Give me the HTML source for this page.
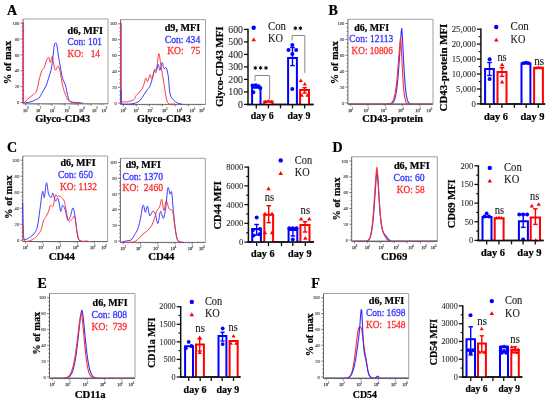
<!DOCTYPE html>
<html><head><meta charset="utf-8"><style>
html,body{margin:0;padding:0;background:#fff;width:550px;height:404px;overflow:hidden}
svg{display:block;will-change:transform}
text{font-family:"Liberation Serif", serif}
</style></head><body>
<svg width="550" height="404" viewBox="0 0 550 404" font-family="Liberation Serif">
<rect width="550" height="404" fill="#fff"/>
<text x="6.9" y="14.5" font-size="14" font-weight="bold" fill="#000" text-anchor="start" stroke="#000" stroke-width="0.22">A</text>
<text x="328.6" y="14.5" font-size="14" font-weight="bold" fill="#000" text-anchor="start" stroke="#000" stroke-width="0.22">B</text>
<text x="6.9" y="151.6" font-size="14" font-weight="bold" fill="#000" text-anchor="start" stroke="#000" stroke-width="0.22">C</text>
<text x="332.6" y="151.7" font-size="14" font-weight="bold" fill="#000" text-anchor="start" stroke="#000" stroke-width="0.22">D</text>
<text x="37.4" y="287.8" font-size="14" font-weight="bold" fill="#000" text-anchor="start" stroke="#000" stroke-width="0.22">E</text>
<text x="311.3" y="287.8" font-size="14" font-weight="bold" fill="#000" text-anchor="start" stroke="#000" stroke-width="0.22">F</text>
<line x1="23" y1="19" x2="108" y2="19" stroke="#a0a0a0" stroke-width="1"/>
<line x1="108" y1="19" x2="108" y2="103.8" stroke="#a0a0a0" stroke-width="1"/>
<line x1="23" y1="19" x2="23" y2="103.8" stroke="#555" stroke-width="0.9"/>
<line x1="23" y1="103.8" x2="108" y2="103.8" stroke="#555" stroke-width="0.9"/>
<line x1="20.6" y1="102.5" x2="23" y2="102.5" stroke="#555" stroke-width="0.8"/>
<text x="19.4" y="104.1" font-size="4.6" font-weight="normal" fill="#4a4a4a" text-anchor="end" stroke="#4a4a4a" stroke-width="0.12">0</text>
<line x1="21.8" y1="98.53" x2="23" y2="98.53" stroke="#555" stroke-width="0.8"/>
<line x1="21.8" y1="94.57" x2="23" y2="94.57" stroke="#555" stroke-width="0.8"/>
<line x1="21.8" y1="90.61" x2="23" y2="90.61" stroke="#555" stroke-width="0.8"/>
<line x1="20.6" y1="86.64" x2="23" y2="86.64" stroke="#555" stroke-width="0.8"/>
<text x="19.4" y="88.24" font-size="4.6" font-weight="normal" fill="#4a4a4a" text-anchor="end" stroke="#4a4a4a" stroke-width="0.12">20</text>
<line x1="21.8" y1="82.67" x2="23" y2="82.67" stroke="#555" stroke-width="0.8"/>
<line x1="21.8" y1="78.71" x2="23" y2="78.71" stroke="#555" stroke-width="0.8"/>
<line x1="21.8" y1="74.75" x2="23" y2="74.75" stroke="#555" stroke-width="0.8"/>
<line x1="20.6" y1="70.78" x2="23" y2="70.78" stroke="#555" stroke-width="0.8"/>
<text x="19.4" y="72.38" font-size="4.6" font-weight="normal" fill="#4a4a4a" text-anchor="end" stroke="#4a4a4a" stroke-width="0.12">40</text>
<line x1="21.8" y1="66.81" x2="23" y2="66.81" stroke="#555" stroke-width="0.8"/>
<line x1="21.8" y1="62.85" x2="23" y2="62.85" stroke="#555" stroke-width="0.8"/>
<line x1="21.8" y1="58.89" x2="23" y2="58.89" stroke="#555" stroke-width="0.8"/>
<line x1="20.6" y1="54.92" x2="23" y2="54.92" stroke="#555" stroke-width="0.8"/>
<text x="19.4" y="56.52" font-size="4.6" font-weight="normal" fill="#4a4a4a" text-anchor="end" stroke="#4a4a4a" stroke-width="0.12">60</text>
<line x1="21.8" y1="50.96" x2="23" y2="50.96" stroke="#555" stroke-width="0.8"/>
<line x1="21.8" y1="46.99" x2="23" y2="46.99" stroke="#555" stroke-width="0.8"/>
<line x1="21.8" y1="43.03" x2="23" y2="43.03" stroke="#555" stroke-width="0.8"/>
<line x1="20.6" y1="39.06" x2="23" y2="39.06" stroke="#555" stroke-width="0.8"/>
<text x="19.4" y="40.66" font-size="4.6" font-weight="normal" fill="#4a4a4a" text-anchor="end" stroke="#4a4a4a" stroke-width="0.12">80</text>
<line x1="21.8" y1="35.1" x2="23" y2="35.1" stroke="#555" stroke-width="0.8"/>
<line x1="21.8" y1="31.13" x2="23" y2="31.13" stroke="#555" stroke-width="0.8"/>
<line x1="21.8" y1="27.17" x2="23" y2="27.17" stroke="#555" stroke-width="0.8"/>
<line x1="20.6" y1="23.2" x2="23" y2="23.2" stroke="#555" stroke-width="0.8"/>
<text x="19.4" y="24.8" font-size="4.6" font-weight="normal" fill="#4a4a4a" text-anchor="end" stroke="#4a4a4a" stroke-width="0.12">100</text>
<text x="25.2" y="111.6" font-size="4.4" font-weight="normal" fill="#505050" text-anchor="middle" stroke="#505050" stroke-width="0.25">10</text>
<text x="27.9" y="109.3" font-size="3" font-weight="normal" fill="#606060" text-anchor="middle" stroke="#606060" stroke-width="0.15">0</text>
<text x="38.1" y="111.6" font-size="4.4" font-weight="normal" fill="#505050" text-anchor="middle" stroke="#505050" stroke-width="0.25">10</text>
<text x="40.8" y="109.3" font-size="3" font-weight="normal" fill="#606060" text-anchor="middle" stroke="#606060" stroke-width="0.15">1</text>
<text x="51.9" y="111.6" font-size="4.4" font-weight="normal" fill="#505050" text-anchor="middle" stroke="#505050" stroke-width="0.25">10</text>
<text x="54.6" y="109.3" font-size="3" font-weight="normal" fill="#606060" text-anchor="middle" stroke="#606060" stroke-width="0.15">2</text>
<text x="66.6" y="111.6" font-size="4.4" font-weight="normal" fill="#505050" text-anchor="middle" stroke="#505050" stroke-width="0.25">10</text>
<text x="69.3" y="109.3" font-size="3" font-weight="normal" fill="#606060" text-anchor="middle" stroke="#606060" stroke-width="0.15">3</text>
<text x="81.3" y="111.6" font-size="4.4" font-weight="normal" fill="#505050" text-anchor="middle" stroke="#505050" stroke-width="0.25">10</text>
<text x="84" y="109.3" font-size="3" font-weight="normal" fill="#606060" text-anchor="middle" stroke="#606060" stroke-width="0.15">4</text>
<text x="94.3" y="111.6" font-size="4.4" font-weight="normal" fill="#505050" text-anchor="middle" stroke="#505050" stroke-width="0.25">10</text>
<text x="97" y="109.3" font-size="3" font-weight="normal" fill="#606060" text-anchor="middle" stroke="#606060" stroke-width="0.15">5</text>
<text x="103.8" y="111.6" font-size="4.4" font-weight="normal" fill="#505050" text-anchor="middle" stroke="#505050" stroke-width="0.25">10</text>
<text x="106.5" y="109.3" font-size="3" font-weight="normal" fill="#606060" text-anchor="middle" stroke="#606060" stroke-width="0.15">6</text>
<line x1="25.8" y1="103.8" x2="25.8" y2="105.8" stroke="#555" stroke-width="0.7"/>
<line x1="29.74" y1="103.8" x2="29.74" y2="104.8" stroke="#777" stroke-width="0.5"/>
<line x1="32.05" y1="103.8" x2="32.05" y2="104.8" stroke="#777" stroke-width="0.5"/>
<line x1="33.69" y1="103.8" x2="33.69" y2="104.8" stroke="#777" stroke-width="0.5"/>
<line x1="34.96" y1="103.8" x2="34.96" y2="104.8" stroke="#777" stroke-width="0.5"/>
<line x1="35.99" y1="103.8" x2="35.99" y2="104.8" stroke="#777" stroke-width="0.5"/>
<line x1="36.87" y1="103.8" x2="36.87" y2="104.8" stroke="#777" stroke-width="0.5"/>
<line x1="37.63" y1="103.8" x2="37.63" y2="104.8" stroke="#777" stroke-width="0.5"/>
<line x1="38.3" y1="103.8" x2="38.3" y2="104.8" stroke="#777" stroke-width="0.5"/>
<line x1="38.9" y1="103.8" x2="38.9" y2="105.8" stroke="#555" stroke-width="0.7"/>
<line x1="42.84" y1="103.8" x2="42.84" y2="104.8" stroke="#777" stroke-width="0.5"/>
<line x1="45.15" y1="103.8" x2="45.15" y2="104.8" stroke="#777" stroke-width="0.5"/>
<line x1="46.79" y1="103.8" x2="46.79" y2="104.8" stroke="#777" stroke-width="0.5"/>
<line x1="48.06" y1="103.8" x2="48.06" y2="104.8" stroke="#777" stroke-width="0.5"/>
<line x1="49.09" y1="103.8" x2="49.09" y2="104.8" stroke="#777" stroke-width="0.5"/>
<line x1="49.97" y1="103.8" x2="49.97" y2="104.8" stroke="#777" stroke-width="0.5"/>
<line x1="50.73" y1="103.8" x2="50.73" y2="104.8" stroke="#777" stroke-width="0.5"/>
<line x1="51.4" y1="103.8" x2="51.4" y2="104.8" stroke="#777" stroke-width="0.5"/>
<line x1="52" y1="103.8" x2="52" y2="105.8" stroke="#555" stroke-width="0.7"/>
<line x1="55.94" y1="103.8" x2="55.94" y2="104.8" stroke="#777" stroke-width="0.5"/>
<line x1="58.25" y1="103.8" x2="58.25" y2="104.8" stroke="#777" stroke-width="0.5"/>
<line x1="59.89" y1="103.8" x2="59.89" y2="104.8" stroke="#777" stroke-width="0.5"/>
<line x1="61.16" y1="103.8" x2="61.16" y2="104.8" stroke="#777" stroke-width="0.5"/>
<line x1="62.19" y1="103.8" x2="62.19" y2="104.8" stroke="#777" stroke-width="0.5"/>
<line x1="63.07" y1="103.8" x2="63.07" y2="104.8" stroke="#777" stroke-width="0.5"/>
<line x1="63.83" y1="103.8" x2="63.83" y2="104.8" stroke="#777" stroke-width="0.5"/>
<line x1="64.5" y1="103.8" x2="64.5" y2="104.8" stroke="#777" stroke-width="0.5"/>
<line x1="65.1" y1="103.8" x2="65.1" y2="105.8" stroke="#555" stroke-width="0.7"/>
<line x1="69.04" y1="103.8" x2="69.04" y2="104.8" stroke="#777" stroke-width="0.5"/>
<line x1="71.35" y1="103.8" x2="71.35" y2="104.8" stroke="#777" stroke-width="0.5"/>
<line x1="72.99" y1="103.8" x2="72.99" y2="104.8" stroke="#777" stroke-width="0.5"/>
<line x1="74.26" y1="103.8" x2="74.26" y2="104.8" stroke="#777" stroke-width="0.5"/>
<line x1="75.29" y1="103.8" x2="75.29" y2="104.8" stroke="#777" stroke-width="0.5"/>
<line x1="76.17" y1="103.8" x2="76.17" y2="104.8" stroke="#777" stroke-width="0.5"/>
<line x1="76.93" y1="103.8" x2="76.93" y2="104.8" stroke="#777" stroke-width="0.5"/>
<line x1="77.6" y1="103.8" x2="77.6" y2="104.8" stroke="#777" stroke-width="0.5"/>
<line x1="78.2" y1="103.8" x2="78.2" y2="105.8" stroke="#555" stroke-width="0.7"/>
<line x1="82.14" y1="103.8" x2="82.14" y2="104.8" stroke="#777" stroke-width="0.5"/>
<line x1="84.45" y1="103.8" x2="84.45" y2="104.8" stroke="#777" stroke-width="0.5"/>
<line x1="86.09" y1="103.8" x2="86.09" y2="104.8" stroke="#777" stroke-width="0.5"/>
<line x1="87.36" y1="103.8" x2="87.36" y2="104.8" stroke="#777" stroke-width="0.5"/>
<line x1="88.39" y1="103.8" x2="88.39" y2="104.8" stroke="#777" stroke-width="0.5"/>
<line x1="89.27" y1="103.8" x2="89.27" y2="104.8" stroke="#777" stroke-width="0.5"/>
<line x1="90.03" y1="103.8" x2="90.03" y2="104.8" stroke="#777" stroke-width="0.5"/>
<line x1="90.7" y1="103.8" x2="90.7" y2="104.8" stroke="#777" stroke-width="0.5"/>
<line x1="91.3" y1="103.8" x2="91.3" y2="105.8" stroke="#555" stroke-width="0.7"/>
<line x1="95.24" y1="103.8" x2="95.24" y2="104.8" stroke="#777" stroke-width="0.5"/>
<line x1="97.55" y1="103.8" x2="97.55" y2="104.8" stroke="#777" stroke-width="0.5"/>
<line x1="99.19" y1="103.8" x2="99.19" y2="104.8" stroke="#777" stroke-width="0.5"/>
<line x1="100.46" y1="103.8" x2="100.46" y2="104.8" stroke="#777" stroke-width="0.5"/>
<line x1="101.49" y1="103.8" x2="101.49" y2="104.8" stroke="#777" stroke-width="0.5"/>
<line x1="102.37" y1="103.8" x2="102.37" y2="104.8" stroke="#777" stroke-width="0.5"/>
<line x1="103.13" y1="103.8" x2="103.13" y2="104.8" stroke="#777" stroke-width="0.5"/>
<line x1="103.8" y1="103.8" x2="103.8" y2="104.8" stroke="#777" stroke-width="0.5"/>
<line x1="23.3" y1="22.3" x2="23.3" y2="103.4" stroke="#e23c6c" stroke-width="1.5"/>
<path d="M24.3,102.7 C25.32,102.58 28.52,102.48 30.4,102 C32.28,101.52 34.15,100.47 35.6,99.8 C37.05,99.13 37.95,99.3 39.1,98 C40.25,96.7 41.35,94.02 42.5,92 C43.65,89.98 44.98,88.22 46,85.9 C47.02,83.58 47.73,80.83 48.6,78.1 C49.47,75.37 50.48,72.97 51.2,69.5 C51.92,66.03 52.38,61.35 52.9,57.3 C53.42,53.25 53.87,47.57 54.3,45.2 C54.73,42.83 55.1,43.25 55.5,43.1 C55.9,42.95 56.27,42.5 56.7,44.3 C57.13,46.1 57.52,50.28 58.1,53.9 C58.68,57.52 59.47,61.97 60.2,66 C60.93,70.03 61.63,74.93 62.5,78.1 C63.37,81.27 64.53,82.12 65.4,85 C66.27,87.88 66.88,92.65 67.7,95.4 C68.52,98.15 68.43,100.28 70.3,101.5 C72.17,102.72 76.75,102.42 78.9,102.7 C81.05,102.98 82.48,103.12 83.2,103.2" fill="none" stroke="#3030ff" stroke-width="0.95" stroke-linejoin="round"/>
<path d="M24.3,102.7 C24.88,102.07 26.5,100.1 27.8,98.9 C29.1,97.7 30.65,96.8 32.1,95.5 C33.55,94.2 35.33,93.7 36.5,91.1 C37.67,88.5 38.23,83.22 39.1,79.9 C39.97,76.58 40.83,73.23 41.7,71.2 C42.57,69.17 43.58,69.28 44.3,67.7 C45.02,66.12 45.28,63.43 46,61.7 C46.72,59.97 47.88,57.17 48.6,57.3 C49.32,57.43 49.72,62.63 50.3,62.5 C50.88,62.37 51.52,56.2 52.1,56.5 C52.68,56.8 53.23,62 53.8,64.3 C54.37,66.6 54.78,70.02 55.5,70.3 C56.22,70.58 57.32,65.7 58.1,66 C58.88,66.3 59.47,68.93 60.2,72.1 C60.93,75.27 61.68,81.4 62.5,85 C63.32,88.6 64.1,91.1 65.1,93.7 C66.1,96.3 67.07,99.1 68.5,100.6 C69.93,102.1 71.68,102.27 73.7,102.7 C75.72,103.13 79.45,103.12 80.6,103.2" fill="none" stroke="#ff3030" stroke-width="0.95" stroke-linejoin="round"/>
<text x="67.5" y="33.7" font-size="10" font-weight="bold" fill="#000" text-anchor="start" stroke="#000" stroke-width="0.22" textLength="35.5" lengthAdjust="spacingAndGlyphs">d6, MFI</text>
<text x="67.5" y="45" font-size="10" font-weight="normal" fill="#3535ff" text-anchor="start" stroke="#3535ff" stroke-width="0.3" textLength="34.5" lengthAdjust="spacingAndGlyphs">Con: 101</text>
<text x="67.5" y="57" font-size="10" font-weight="normal" fill="#ff2d2d" text-anchor="start" stroke="#ff2d2d" stroke-width="0.3" textLength="32.5" lengthAdjust="spacingAndGlyphs">KO:&#160;&#160;&#160;14</text>
<text x="35.2" y="122.3" font-size="10.5" font-weight="bold" fill="#000" text-anchor="start" stroke="#000" stroke-width="0.22" textLength="55" lengthAdjust="spacingAndGlyphs">Glyco-CD43</text>
<text transform="translate(11.2,62.55) rotate(-90)" x="0" y="0" font-size="10.6" font-weight="bold" fill="#000" text-anchor="middle" stroke="#000" stroke-width="0.22" textLength="43.3" lengthAdjust="spacingAndGlyphs">% of max</text>
<line x1="120.5" y1="19.6" x2="205.5" y2="19.6" stroke="#a0a0a0" stroke-width="1"/>
<line x1="205.5" y1="19.6" x2="205.5" y2="104.4" stroke="#a0a0a0" stroke-width="1"/>
<line x1="120.5" y1="19.6" x2="120.5" y2="104.4" stroke="#555" stroke-width="0.9"/>
<line x1="120.5" y1="104.4" x2="205.5" y2="104.4" stroke="#555" stroke-width="0.9"/>
<line x1="118.1" y1="103.1" x2="120.5" y2="103.1" stroke="#555" stroke-width="0.8"/>
<text x="116.9" y="104.7" font-size="4.6" font-weight="normal" fill="#4a4a4a" text-anchor="end" stroke="#4a4a4a" stroke-width="0.12">0</text>
<line x1="119.3" y1="99.14" x2="120.5" y2="99.14" stroke="#555" stroke-width="0.8"/>
<line x1="119.3" y1="95.17" x2="120.5" y2="95.17" stroke="#555" stroke-width="0.8"/>
<line x1="119.3" y1="91.21" x2="120.5" y2="91.21" stroke="#555" stroke-width="0.8"/>
<line x1="118.1" y1="87.24" x2="120.5" y2="87.24" stroke="#555" stroke-width="0.8"/>
<text x="116.9" y="88.84" font-size="4.6" font-weight="normal" fill="#4a4a4a" text-anchor="end" stroke="#4a4a4a" stroke-width="0.12">20</text>
<line x1="119.3" y1="83.28" x2="120.5" y2="83.28" stroke="#555" stroke-width="0.8"/>
<line x1="119.3" y1="79.31" x2="120.5" y2="79.31" stroke="#555" stroke-width="0.8"/>
<line x1="119.3" y1="75.34" x2="120.5" y2="75.34" stroke="#555" stroke-width="0.8"/>
<line x1="118.1" y1="71.38" x2="120.5" y2="71.38" stroke="#555" stroke-width="0.8"/>
<text x="116.9" y="72.98" font-size="4.6" font-weight="normal" fill="#4a4a4a" text-anchor="end" stroke="#4a4a4a" stroke-width="0.12">40</text>
<line x1="119.3" y1="67.41" x2="120.5" y2="67.41" stroke="#555" stroke-width="0.8"/>
<line x1="119.3" y1="63.45" x2="120.5" y2="63.45" stroke="#555" stroke-width="0.8"/>
<line x1="119.3" y1="59.48" x2="120.5" y2="59.48" stroke="#555" stroke-width="0.8"/>
<line x1="118.1" y1="55.52" x2="120.5" y2="55.52" stroke="#555" stroke-width="0.8"/>
<text x="116.9" y="57.12" font-size="4.6" font-weight="normal" fill="#4a4a4a" text-anchor="end" stroke="#4a4a4a" stroke-width="0.12">60</text>
<line x1="119.3" y1="51.55" x2="120.5" y2="51.55" stroke="#555" stroke-width="0.8"/>
<line x1="119.3" y1="47.59" x2="120.5" y2="47.59" stroke="#555" stroke-width="0.8"/>
<line x1="119.3" y1="43.62" x2="120.5" y2="43.62" stroke="#555" stroke-width="0.8"/>
<line x1="118.1" y1="39.66" x2="120.5" y2="39.66" stroke="#555" stroke-width="0.8"/>
<text x="116.9" y="41.26" font-size="4.6" font-weight="normal" fill="#4a4a4a" text-anchor="end" stroke="#4a4a4a" stroke-width="0.12">80</text>
<line x1="119.3" y1="35.69" x2="120.5" y2="35.69" stroke="#555" stroke-width="0.8"/>
<line x1="119.3" y1="31.73" x2="120.5" y2="31.73" stroke="#555" stroke-width="0.8"/>
<line x1="119.3" y1="27.77" x2="120.5" y2="27.77" stroke="#555" stroke-width="0.8"/>
<line x1="118.1" y1="23.8" x2="120.5" y2="23.8" stroke="#555" stroke-width="0.8"/>
<text x="116.9" y="25.4" font-size="4.6" font-weight="normal" fill="#4a4a4a" text-anchor="end" stroke="#4a4a4a" stroke-width="0.12">100</text>
<text x="122.7" y="112.2" font-size="4.4" font-weight="normal" fill="#505050" text-anchor="middle" stroke="#505050" stroke-width="0.25">10</text>
<text x="125.4" y="109.9" font-size="3" font-weight="normal" fill="#606060" text-anchor="middle" stroke="#606060" stroke-width="0.15">0</text>
<text x="135.6" y="112.2" font-size="4.4" font-weight="normal" fill="#505050" text-anchor="middle" stroke="#505050" stroke-width="0.25">10</text>
<text x="138.3" y="109.9" font-size="3" font-weight="normal" fill="#606060" text-anchor="middle" stroke="#606060" stroke-width="0.15">1</text>
<text x="149.4" y="112.2" font-size="4.4" font-weight="normal" fill="#505050" text-anchor="middle" stroke="#505050" stroke-width="0.25">10</text>
<text x="152.1" y="109.9" font-size="3" font-weight="normal" fill="#606060" text-anchor="middle" stroke="#606060" stroke-width="0.15">2</text>
<text x="164.1" y="112.2" font-size="4.4" font-weight="normal" fill="#505050" text-anchor="middle" stroke="#505050" stroke-width="0.25">10</text>
<text x="166.8" y="109.9" font-size="3" font-weight="normal" fill="#606060" text-anchor="middle" stroke="#606060" stroke-width="0.15">3</text>
<text x="178.8" y="112.2" font-size="4.4" font-weight="normal" fill="#505050" text-anchor="middle" stroke="#505050" stroke-width="0.25">10</text>
<text x="181.5" y="109.9" font-size="3" font-weight="normal" fill="#606060" text-anchor="middle" stroke="#606060" stroke-width="0.15">4</text>
<text x="191.8" y="112.2" font-size="4.4" font-weight="normal" fill="#505050" text-anchor="middle" stroke="#505050" stroke-width="0.25">10</text>
<text x="194.5" y="109.9" font-size="3" font-weight="normal" fill="#606060" text-anchor="middle" stroke="#606060" stroke-width="0.15">5</text>
<text x="201.3" y="112.2" font-size="4.4" font-weight="normal" fill="#505050" text-anchor="middle" stroke="#505050" stroke-width="0.25">10</text>
<text x="204" y="109.9" font-size="3" font-weight="normal" fill="#606060" text-anchor="middle" stroke="#606060" stroke-width="0.15">6</text>
<line x1="123.3" y1="104.4" x2="123.3" y2="106.4" stroke="#555" stroke-width="0.7"/>
<line x1="127.24" y1="104.4" x2="127.24" y2="105.4" stroke="#777" stroke-width="0.5"/>
<line x1="129.55" y1="104.4" x2="129.55" y2="105.4" stroke="#777" stroke-width="0.5"/>
<line x1="131.19" y1="104.4" x2="131.19" y2="105.4" stroke="#777" stroke-width="0.5"/>
<line x1="132.46" y1="104.4" x2="132.46" y2="105.4" stroke="#777" stroke-width="0.5"/>
<line x1="133.49" y1="104.4" x2="133.49" y2="105.4" stroke="#777" stroke-width="0.5"/>
<line x1="134.37" y1="104.4" x2="134.37" y2="105.4" stroke="#777" stroke-width="0.5"/>
<line x1="135.13" y1="104.4" x2="135.13" y2="105.4" stroke="#777" stroke-width="0.5"/>
<line x1="135.8" y1="104.4" x2="135.8" y2="105.4" stroke="#777" stroke-width="0.5"/>
<line x1="136.4" y1="104.4" x2="136.4" y2="106.4" stroke="#555" stroke-width="0.7"/>
<line x1="140.34" y1="104.4" x2="140.34" y2="105.4" stroke="#777" stroke-width="0.5"/>
<line x1="142.65" y1="104.4" x2="142.65" y2="105.4" stroke="#777" stroke-width="0.5"/>
<line x1="144.29" y1="104.4" x2="144.29" y2="105.4" stroke="#777" stroke-width="0.5"/>
<line x1="145.56" y1="104.4" x2="145.56" y2="105.4" stroke="#777" stroke-width="0.5"/>
<line x1="146.59" y1="104.4" x2="146.59" y2="105.4" stroke="#777" stroke-width="0.5"/>
<line x1="147.47" y1="104.4" x2="147.47" y2="105.4" stroke="#777" stroke-width="0.5"/>
<line x1="148.23" y1="104.4" x2="148.23" y2="105.4" stroke="#777" stroke-width="0.5"/>
<line x1="148.9" y1="104.4" x2="148.9" y2="105.4" stroke="#777" stroke-width="0.5"/>
<line x1="149.5" y1="104.4" x2="149.5" y2="106.4" stroke="#555" stroke-width="0.7"/>
<line x1="153.44" y1="104.4" x2="153.44" y2="105.4" stroke="#777" stroke-width="0.5"/>
<line x1="155.75" y1="104.4" x2="155.75" y2="105.4" stroke="#777" stroke-width="0.5"/>
<line x1="157.39" y1="104.4" x2="157.39" y2="105.4" stroke="#777" stroke-width="0.5"/>
<line x1="158.66" y1="104.4" x2="158.66" y2="105.4" stroke="#777" stroke-width="0.5"/>
<line x1="159.69" y1="104.4" x2="159.69" y2="105.4" stroke="#777" stroke-width="0.5"/>
<line x1="160.57" y1="104.4" x2="160.57" y2="105.4" stroke="#777" stroke-width="0.5"/>
<line x1="161.33" y1="104.4" x2="161.33" y2="105.4" stroke="#777" stroke-width="0.5"/>
<line x1="162" y1="104.4" x2="162" y2="105.4" stroke="#777" stroke-width="0.5"/>
<line x1="162.6" y1="104.4" x2="162.6" y2="106.4" stroke="#555" stroke-width="0.7"/>
<line x1="166.54" y1="104.4" x2="166.54" y2="105.4" stroke="#777" stroke-width="0.5"/>
<line x1="168.85" y1="104.4" x2="168.85" y2="105.4" stroke="#777" stroke-width="0.5"/>
<line x1="170.49" y1="104.4" x2="170.49" y2="105.4" stroke="#777" stroke-width="0.5"/>
<line x1="171.76" y1="104.4" x2="171.76" y2="105.4" stroke="#777" stroke-width="0.5"/>
<line x1="172.79" y1="104.4" x2="172.79" y2="105.4" stroke="#777" stroke-width="0.5"/>
<line x1="173.67" y1="104.4" x2="173.67" y2="105.4" stroke="#777" stroke-width="0.5"/>
<line x1="174.43" y1="104.4" x2="174.43" y2="105.4" stroke="#777" stroke-width="0.5"/>
<line x1="175.1" y1="104.4" x2="175.1" y2="105.4" stroke="#777" stroke-width="0.5"/>
<line x1="175.7" y1="104.4" x2="175.7" y2="106.4" stroke="#555" stroke-width="0.7"/>
<line x1="179.64" y1="104.4" x2="179.64" y2="105.4" stroke="#777" stroke-width="0.5"/>
<line x1="181.95" y1="104.4" x2="181.95" y2="105.4" stroke="#777" stroke-width="0.5"/>
<line x1="183.59" y1="104.4" x2="183.59" y2="105.4" stroke="#777" stroke-width="0.5"/>
<line x1="184.86" y1="104.4" x2="184.86" y2="105.4" stroke="#777" stroke-width="0.5"/>
<line x1="185.89" y1="104.4" x2="185.89" y2="105.4" stroke="#777" stroke-width="0.5"/>
<line x1="186.77" y1="104.4" x2="186.77" y2="105.4" stroke="#777" stroke-width="0.5"/>
<line x1="187.53" y1="104.4" x2="187.53" y2="105.4" stroke="#777" stroke-width="0.5"/>
<line x1="188.2" y1="104.4" x2="188.2" y2="105.4" stroke="#777" stroke-width="0.5"/>
<line x1="188.8" y1="104.4" x2="188.8" y2="106.4" stroke="#555" stroke-width="0.7"/>
<line x1="192.74" y1="104.4" x2="192.74" y2="105.4" stroke="#777" stroke-width="0.5"/>
<line x1="195.05" y1="104.4" x2="195.05" y2="105.4" stroke="#777" stroke-width="0.5"/>
<line x1="196.69" y1="104.4" x2="196.69" y2="105.4" stroke="#777" stroke-width="0.5"/>
<line x1="197.96" y1="104.4" x2="197.96" y2="105.4" stroke="#777" stroke-width="0.5"/>
<line x1="198.99" y1="104.4" x2="198.99" y2="105.4" stroke="#777" stroke-width="0.5"/>
<line x1="199.87" y1="104.4" x2="199.87" y2="105.4" stroke="#777" stroke-width="0.5"/>
<line x1="200.63" y1="104.4" x2="200.63" y2="105.4" stroke="#777" stroke-width="0.5"/>
<line x1="201.3" y1="104.4" x2="201.3" y2="105.4" stroke="#777" stroke-width="0.5"/>
<line x1="121.2" y1="23" x2="121.2" y2="104" stroke="#e8406a" stroke-width="1.3"/>
<line x1="121.3" y1="90" x2="121.3" y2="104" stroke="#3030ff" stroke-width="0.9"/>
<path d="M121.5,104 C122.65,104.02 126.1,104.23 128.4,104.1 C130.7,103.97 133.28,103.92 135.3,103.2 C137.32,102.48 139.05,101.23 140.5,99.8 C141.95,98.37 142.83,96.33 144,94.6 C145.17,92.87 146.5,90.85 147.5,89.4 C148.5,87.95 149.13,87.92 150,85.9 C150.87,83.88 151.92,80.03 152.7,77.3 C153.48,74.57 154.07,70.67 154.7,69.5 C155.33,68.33 155.92,71.17 156.5,70.3 C157.08,69.43 157.63,64.3 158.2,64.3 C158.77,64.3 159.23,70.6 159.9,70.3 C160.57,70 161.53,62.78 162.2,62.5 C162.87,62.22 163.23,67.73 163.9,68.6 C164.57,69.47 165.47,66.4 166.2,67.7 C166.93,69 167.67,72.07 168.3,76.4 C168.93,80.73 169.15,89.8 170,93.7 C170.85,97.6 172.1,98.22 173.4,99.8 C174.7,101.38 176.35,102.5 177.8,103.2 C179.25,103.9 181.38,103.87 182.1,104" fill="none" stroke="#3030ff" stroke-width="0.95" stroke-linejoin="round"/>
<path d="M121.5,104 C121.78,103.58 122.33,101.83 123.2,101.5 C124.07,101.17 124.97,102.28 126.7,102 C128.43,101.72 132.02,100.88 133.6,99.8 C135.18,98.72 135.18,96.8 136.2,95.5 C137.22,94.2 138.55,93.45 139.7,92 C140.85,90.55 142.1,89.12 143.1,86.8 C144.1,84.48 144.97,78.97 145.7,78.1 C146.43,77.23 146.77,82.17 147.5,81.6 C148.23,81.03 149.38,75.13 150.1,74.7 C150.82,74.27 151.08,79.73 151.8,79 C152.52,78.27 153.68,71.45 154.4,70.3 C155.12,69.15 155.38,74.83 156.1,72.1 C156.82,69.37 157.97,55.5 158.7,53.9 C159.43,52.3 159.92,59.33 160.5,62.5 C161.08,65.67 161.63,69.43 162.2,72.9 C162.77,76.37 163.18,78.97 163.9,83.3 C164.62,87.63 165.63,95.48 166.5,98.9 C167.37,102.32 167.68,102.95 169.1,103.8 C170.52,104.65 174.02,103.97 175,104" fill="none" stroke="#ff3030" stroke-width="0.95" stroke-linejoin="round"/>
<text x="200.2" y="31" font-size="10" font-weight="bold" fill="#000" text-anchor="end" stroke="#000" stroke-width="0.22" textLength="35.5" lengthAdjust="spacingAndGlyphs">d9, MFI</text>
<text x="200.2" y="42.6" font-size="10" font-weight="normal" fill="#3535ff" text-anchor="end" stroke="#3535ff" stroke-width="0.3" textLength="35.4" lengthAdjust="spacingAndGlyphs">Con: 434</text>
<text x="200.2" y="54.1" font-size="10" font-weight="normal" fill="#ff2d2d" text-anchor="end" stroke="#ff2d2d" stroke-width="0.3" textLength="33" lengthAdjust="spacingAndGlyphs">KO:&#160;&#160;&#160;75</text>
<text x="136.9" y="122.2" font-size="10.5" font-weight="bold" fill="#000" text-anchor="start" stroke="#000" stroke-width="0.22" textLength="54.2" lengthAdjust="spacingAndGlyphs">Glyco-CD43</text>
<line x1="347.9" y1="19.3" x2="433" y2="19.3" stroke="#a0a0a0" stroke-width="1"/>
<line x1="433" y1="19.3" x2="433" y2="104.2" stroke="#a0a0a0" stroke-width="1"/>
<line x1="347.9" y1="19.3" x2="347.9" y2="104.2" stroke="#555" stroke-width="0.9"/>
<line x1="347.9" y1="104.2" x2="433" y2="104.2" stroke="#555" stroke-width="0.9"/>
<line x1="345.5" y1="102.9" x2="347.9" y2="102.9" stroke="#555" stroke-width="0.8"/>
<text x="344.3" y="104.5" font-size="4.6" font-weight="normal" fill="#4a4a4a" text-anchor="end" stroke="#4a4a4a" stroke-width="0.12">0</text>
<line x1="346.7" y1="98.93" x2="347.9" y2="98.93" stroke="#555" stroke-width="0.8"/>
<line x1="346.7" y1="94.96" x2="347.9" y2="94.96" stroke="#555" stroke-width="0.8"/>
<line x1="346.7" y1="90.99" x2="347.9" y2="90.99" stroke="#555" stroke-width="0.8"/>
<line x1="345.5" y1="87.02" x2="347.9" y2="87.02" stroke="#555" stroke-width="0.8"/>
<text x="344.3" y="88.62" font-size="4.6" font-weight="normal" fill="#4a4a4a" text-anchor="end" stroke="#4a4a4a" stroke-width="0.12">20</text>
<line x1="346.7" y1="83.05" x2="347.9" y2="83.05" stroke="#555" stroke-width="0.8"/>
<line x1="346.7" y1="79.08" x2="347.9" y2="79.08" stroke="#555" stroke-width="0.8"/>
<line x1="346.7" y1="75.11" x2="347.9" y2="75.11" stroke="#555" stroke-width="0.8"/>
<line x1="345.5" y1="71.14" x2="347.9" y2="71.14" stroke="#555" stroke-width="0.8"/>
<text x="344.3" y="72.74" font-size="4.6" font-weight="normal" fill="#4a4a4a" text-anchor="end" stroke="#4a4a4a" stroke-width="0.12">40</text>
<line x1="346.7" y1="67.17" x2="347.9" y2="67.17" stroke="#555" stroke-width="0.8"/>
<line x1="346.7" y1="63.2" x2="347.9" y2="63.2" stroke="#555" stroke-width="0.8"/>
<line x1="346.7" y1="59.23" x2="347.9" y2="59.23" stroke="#555" stroke-width="0.8"/>
<line x1="345.5" y1="55.26" x2="347.9" y2="55.26" stroke="#555" stroke-width="0.8"/>
<text x="344.3" y="56.86" font-size="4.6" font-weight="normal" fill="#4a4a4a" text-anchor="end" stroke="#4a4a4a" stroke-width="0.12">60</text>
<line x1="346.7" y1="51.29" x2="347.9" y2="51.29" stroke="#555" stroke-width="0.8"/>
<line x1="346.7" y1="47.32" x2="347.9" y2="47.32" stroke="#555" stroke-width="0.8"/>
<line x1="346.7" y1="43.35" x2="347.9" y2="43.35" stroke="#555" stroke-width="0.8"/>
<line x1="345.5" y1="39.38" x2="347.9" y2="39.38" stroke="#555" stroke-width="0.8"/>
<text x="344.3" y="40.98" font-size="4.6" font-weight="normal" fill="#4a4a4a" text-anchor="end" stroke="#4a4a4a" stroke-width="0.12">80</text>
<line x1="346.7" y1="35.41" x2="347.9" y2="35.41" stroke="#555" stroke-width="0.8"/>
<line x1="346.7" y1="31.44" x2="347.9" y2="31.44" stroke="#555" stroke-width="0.8"/>
<line x1="346.7" y1="27.47" x2="347.9" y2="27.47" stroke="#555" stroke-width="0.8"/>
<line x1="345.5" y1="23.5" x2="347.9" y2="23.5" stroke="#555" stroke-width="0.8"/>
<text x="344.3" y="25.1" font-size="4.6" font-weight="normal" fill="#4a4a4a" text-anchor="end" stroke="#4a4a4a" stroke-width="0.12">100</text>
<text x="350.1" y="112" font-size="4.4" font-weight="normal" fill="#505050" text-anchor="middle" stroke="#505050" stroke-width="0.25">10</text>
<text x="352.8" y="109.7" font-size="3" font-weight="normal" fill="#606060" text-anchor="middle" stroke="#606060" stroke-width="0.15">1</text>
<text x="365.62" y="112" font-size="4.4" font-weight="normal" fill="#505050" text-anchor="middle" stroke="#505050" stroke-width="0.25">10</text>
<text x="368.32" y="109.7" font-size="3" font-weight="normal" fill="#606060" text-anchor="middle" stroke="#606060" stroke-width="0.15">2</text>
<text x="382.94" y="112" font-size="4.4" font-weight="normal" fill="#505050" text-anchor="middle" stroke="#505050" stroke-width="0.25">10</text>
<text x="385.64" y="109.7" font-size="3" font-weight="normal" fill="#606060" text-anchor="middle" stroke="#606060" stroke-width="0.15">3</text>
<text x="400.26" y="112" font-size="4.4" font-weight="normal" fill="#505050" text-anchor="middle" stroke="#505050" stroke-width="0.25">10</text>
<text x="402.96" y="109.7" font-size="3" font-weight="normal" fill="#606060" text-anchor="middle" stroke="#606060" stroke-width="0.15">4</text>
<text x="417.48" y="112" font-size="4.4" font-weight="normal" fill="#505050" text-anchor="middle" stroke="#505050" stroke-width="0.25">10</text>
<text x="420.18" y="109.7" font-size="3" font-weight="normal" fill="#606060" text-anchor="middle" stroke="#606060" stroke-width="0.15">5</text>
<text x="428.8" y="112" font-size="4.4" font-weight="normal" fill="#505050" text-anchor="middle" stroke="#505050" stroke-width="0.25">10</text>
<text x="431.5" y="109.7" font-size="3" font-weight="normal" fill="#606060" text-anchor="middle" stroke="#606060" stroke-width="0.15">6</text>
<line x1="350.7" y1="104.2" x2="350.7" y2="106.2" stroke="#555" stroke-width="0.7"/>
<line x1="355.92" y1="104.2" x2="355.92" y2="105.2" stroke="#777" stroke-width="0.5"/>
<line x1="358.97" y1="104.2" x2="358.97" y2="105.2" stroke="#777" stroke-width="0.5"/>
<line x1="361.13" y1="104.2" x2="361.13" y2="105.2" stroke="#777" stroke-width="0.5"/>
<line x1="362.81" y1="104.2" x2="362.81" y2="105.2" stroke="#777" stroke-width="0.5"/>
<line x1="364.18" y1="104.2" x2="364.18" y2="105.2" stroke="#777" stroke-width="0.5"/>
<line x1="365.34" y1="104.2" x2="365.34" y2="105.2" stroke="#777" stroke-width="0.5"/>
<line x1="366.35" y1="104.2" x2="366.35" y2="105.2" stroke="#777" stroke-width="0.5"/>
<line x1="367.23" y1="104.2" x2="367.23" y2="105.2" stroke="#777" stroke-width="0.5"/>
<line x1="368.02" y1="104.2" x2="368.02" y2="106.2" stroke="#555" stroke-width="0.7"/>
<line x1="373.24" y1="104.2" x2="373.24" y2="105.2" stroke="#777" stroke-width="0.5"/>
<line x1="376.29" y1="104.2" x2="376.29" y2="105.2" stroke="#777" stroke-width="0.5"/>
<line x1="378.45" y1="104.2" x2="378.45" y2="105.2" stroke="#777" stroke-width="0.5"/>
<line x1="380.13" y1="104.2" x2="380.13" y2="105.2" stroke="#777" stroke-width="0.5"/>
<line x1="381.5" y1="104.2" x2="381.5" y2="105.2" stroke="#777" stroke-width="0.5"/>
<line x1="382.66" y1="104.2" x2="382.66" y2="105.2" stroke="#777" stroke-width="0.5"/>
<line x1="383.67" y1="104.2" x2="383.67" y2="105.2" stroke="#777" stroke-width="0.5"/>
<line x1="384.55" y1="104.2" x2="384.55" y2="105.2" stroke="#777" stroke-width="0.5"/>
<line x1="385.34" y1="104.2" x2="385.34" y2="106.2" stroke="#555" stroke-width="0.7"/>
<line x1="390.56" y1="104.2" x2="390.56" y2="105.2" stroke="#777" stroke-width="0.5"/>
<line x1="393.61" y1="104.2" x2="393.61" y2="105.2" stroke="#777" stroke-width="0.5"/>
<line x1="395.77" y1="104.2" x2="395.77" y2="105.2" stroke="#777" stroke-width="0.5"/>
<line x1="397.45" y1="104.2" x2="397.45" y2="105.2" stroke="#777" stroke-width="0.5"/>
<line x1="398.82" y1="104.2" x2="398.82" y2="105.2" stroke="#777" stroke-width="0.5"/>
<line x1="399.98" y1="104.2" x2="399.98" y2="105.2" stroke="#777" stroke-width="0.5"/>
<line x1="400.99" y1="104.2" x2="400.99" y2="105.2" stroke="#777" stroke-width="0.5"/>
<line x1="401.87" y1="104.2" x2="401.87" y2="105.2" stroke="#777" stroke-width="0.5"/>
<line x1="402.66" y1="104.2" x2="402.66" y2="106.2" stroke="#555" stroke-width="0.7"/>
<line x1="407.88" y1="104.2" x2="407.88" y2="105.2" stroke="#777" stroke-width="0.5"/>
<line x1="410.93" y1="104.2" x2="410.93" y2="105.2" stroke="#777" stroke-width="0.5"/>
<line x1="413.09" y1="104.2" x2="413.09" y2="105.2" stroke="#777" stroke-width="0.5"/>
<line x1="414.77" y1="104.2" x2="414.77" y2="105.2" stroke="#777" stroke-width="0.5"/>
<line x1="416.14" y1="104.2" x2="416.14" y2="105.2" stroke="#777" stroke-width="0.5"/>
<line x1="417.3" y1="104.2" x2="417.3" y2="105.2" stroke="#777" stroke-width="0.5"/>
<line x1="418.31" y1="104.2" x2="418.31" y2="105.2" stroke="#777" stroke-width="0.5"/>
<line x1="419.19" y1="104.2" x2="419.19" y2="105.2" stroke="#777" stroke-width="0.5"/>
<line x1="419.98" y1="104.2" x2="419.98" y2="106.2" stroke="#555" stroke-width="0.7"/>
<line x1="425.2" y1="104.2" x2="425.2" y2="105.2" stroke="#777" stroke-width="0.5"/>
<line x1="428.25" y1="104.2" x2="428.25" y2="105.2" stroke="#777" stroke-width="0.5"/>
<line x1="430.41" y1="104.2" x2="430.41" y2="105.2" stroke="#777" stroke-width="0.5"/>
<line x1="432.09" y1="104.2" x2="432.09" y2="105.2" stroke="#777" stroke-width="0.5"/>
<polyline points="349,104.2 349.59,104.2 350.19,104.2 350.78,104.2 351.37,104.2 351.96,104.2 352.56,104.2 353.15,104.2 353.74,104.2 354.34,104.2 354.93,104.2 355.52,104.2 356.11,104.2 356.71,104.2 357.3,104.2 357.89,104.2 358.49,104.2 359.08,104.2 359.67,104.2 360.26,104.2 360.86,104.2 361.45,104.2 362.04,104.2 362.64,104.2 363.23,104.2 363.82,104.2 364.41,104.2 365.01,104.2 365.6,104.2 366.19,104.2 366.79,104.2 367.38,104.2 367.97,104.2 368.56,104.2 369.16,104.2 369.75,104.2 370.34,104.2 370.94,104.2 371.53,104.2 372.12,104.2 372.71,104.2 373.31,104.2 373.9,104.2 374.49,104.2 375.09,104.2 375.68,104.2 376.27,104.2 376.86,104.2 377.46,104.2 378.05,104.2 378.64,104.2 379.24,104.2 379.83,104.2 380.42,104.2 381.01,104.2 381.61,104.2 382.2,104.2 382.79,104.2 383.39,104.2 383.98,104.2 384.57,104.2 385.16,104.2 385.76,104.19 386.35,104.19 386.94,104.18 387.54,104.17 388.13,104.15 388.72,104.12 389.31,104.07 389.91,104 390.5,103.88 391.09,103.72 391.69,103.46 392.28,103.1 392.87,102.56 393.46,101.81 394.06,100.75 394.65,99.28 395.24,97.31 395.84,94.68 396.43,91.25 397.02,86.89 397.61,81.47 398.21,74.91 398.8,67.24 399.39,58.6 399.99,49.37 400.58,40.19 401.17,32.2 401.76,28.3 402.36,36.22 402.95,47.68 403.54,59.55 404.14,70.36 404.73,79.47 405.32,86.7 405.91,92.18 406.51,96.17 407.1,98.97 407.69,100.87 408.29,102.13 408.88,102.94 409.47,103.45 410.06,103.76 410.66,103.95 411.25,104.06 411.84,104.12 412.44,104.16 413.03,104.18 413.62,104.19 414.21,104.19 414.81,104.2 415.4,104.2 415.99,104.2 416.59,104.2 417.18,104.2 417.77,104.2 418.36,104.2 418.96,104.2 419.55,104.2 420.14,104.2 420.74,104.2 421.33,104.2 421.92,104.2 422.51,104.2 423.11,104.2 423.7,104.2 424.29,104.2 424.89,104.2 425.48,104.2 426.07,104.2 426.66,104.2 427.26,104.2 427.85,104.2 428.44,104.2 429.04,104.2 429.63,104.2 430.22,104.2 430.81,104.2 431.41,104.2 432,104.2" fill="none" stroke="#3030ff" stroke-width="1.1" stroke-linejoin="round"/>
<polyline points="349,104.2 349.59,104.2 350.19,104.2 350.78,104.2 351.37,104.2 351.96,104.2 352.56,104.2 353.15,104.2 353.74,104.2 354.34,104.2 354.93,104.2 355.52,104.2 356.11,104.2 356.71,104.2 357.3,104.2 357.89,104.2 358.49,104.2 359.08,104.2 359.67,104.2 360.26,104.2 360.86,104.2 361.45,104.2 362.04,104.2 362.64,104.2 363.23,104.2 363.82,104.2 364.41,104.2 365.01,104.2 365.6,104.2 366.19,104.2 366.79,104.2 367.38,104.2 367.97,104.2 368.56,104.2 369.16,104.2 369.75,104.2 370.34,104.2 370.94,104.2 371.53,104.2 372.12,104.2 372.71,104.2 373.31,104.2 373.9,104.2 374.49,104.2 375.09,104.2 375.68,104.2 376.27,104.2 376.86,104.2 377.46,104.2 378.05,104.2 378.64,104.2 379.24,104.2 379.83,104.2 380.42,104.2 381.01,104.2 381.61,104.2 382.2,104.2 382.79,104.2 383.39,104.2 383.98,104.2 384.57,104.19 385.16,104.19 385.76,104.18 386.35,104.17 386.94,104.14 387.54,104.11 388.13,104.06 388.72,103.99 389.31,103.88 389.91,103.71 390.5,103.47 391.09,103.12 391.69,102.62 392.28,101.92 392.87,100.95 393.46,99.64 394.06,97.87 394.65,95.56 395.24,92.57 395.84,88.79 396.43,84.13 397.02,78.54 397.61,72.02 398.21,64.71 398.8,56.89 399.39,49.06 399.99,42.12 400.58,37.8 401.17,45.06 401.76,56.82 402.36,68.69 402.95,78.99 403.54,87.11 404.14,93.09 404.73,97.24 405.32,99.99 405.91,101.74 406.51,102.8 407.1,103.43 407.69,103.79 408.29,103.98 408.88,104.09 409.47,104.15 410.06,104.17 410.66,104.19 411.25,104.19 411.84,104.2 412.44,104.2 413.03,104.2 413.62,104.2 414.21,104.2 414.81,104.2 415.4,104.2 415.99,104.2 416.59,104.2 417.18,104.2 417.77,104.2 418.36,104.2 418.96,104.2 419.55,104.2 420.14,104.2 420.74,104.2 421.33,104.2 421.92,104.2 422.51,104.2 423.11,104.2 423.7,104.2 424.29,104.2 424.89,104.2 425.48,104.2 426.07,104.2 426.66,104.2 427.26,104.2 427.85,104.2 428.44,104.2 429.04,104.2 429.63,104.2 430.22,104.2 430.81,104.2 431.41,104.2 432,104.2" fill="none" stroke="#ff3030" stroke-width="1.1" stroke-linejoin="round"/>
<line x1="347.9" y1="104.2" x2="433" y2="104.2" stroke="#6a6070" stroke-width="1.2"/>
<text x="354.3" y="31.1" font-size="10" font-weight="bold" fill="#000" text-anchor="start" stroke="#000" stroke-width="0.22" textLength="34.7" lengthAdjust="spacingAndGlyphs">d6, MFI</text>
<text x="349.3" y="42" font-size="10" font-weight="normal" fill="#3535ff" text-anchor="start" stroke="#3535ff" stroke-width="0.3" textLength="44" lengthAdjust="spacingAndGlyphs">Con: 12113</text>
<text x="351.6" y="53.5" font-size="10" font-weight="normal" fill="#ff2d2d" text-anchor="start" stroke="#ff2d2d" stroke-width="0.3" textLength="41.2" lengthAdjust="spacingAndGlyphs">KO: 10806</text>
<text x="362.3" y="122.4" font-size="10.5" font-weight="bold" fill="#000" text-anchor="start" stroke="#000" stroke-width="0.22" textLength="60.8" lengthAdjust="spacingAndGlyphs">CD43-protein</text>
<text transform="translate(338,62.65) rotate(-90)" x="0" y="0" font-size="10.6" font-weight="bold" fill="#000" text-anchor="middle" stroke="#000" stroke-width="0.22" textLength="43.1" lengthAdjust="spacingAndGlyphs">% of max</text>
<line x1="22.8" y1="156" x2="107.6" y2="156" stroke="#a0a0a0" stroke-width="1"/>
<line x1="107.6" y1="156" x2="107.6" y2="241.5" stroke="#a0a0a0" stroke-width="1"/>
<line x1="22.8" y1="156" x2="22.8" y2="241.5" stroke="#555" stroke-width="0.9"/>
<line x1="22.8" y1="241.5" x2="107.6" y2="241.5" stroke="#555" stroke-width="0.9"/>
<line x1="20.4" y1="240.2" x2="22.8" y2="240.2" stroke="#555" stroke-width="0.8"/>
<text x="19.2" y="241.8" font-size="4.6" font-weight="normal" fill="#4a4a4a" text-anchor="end" stroke="#4a4a4a" stroke-width="0.12">0</text>
<line x1="21.6" y1="236.2" x2="22.8" y2="236.2" stroke="#555" stroke-width="0.8"/>
<line x1="21.6" y1="232.2" x2="22.8" y2="232.2" stroke="#555" stroke-width="0.8"/>
<line x1="21.6" y1="228.2" x2="22.8" y2="228.2" stroke="#555" stroke-width="0.8"/>
<line x1="20.4" y1="224.2" x2="22.8" y2="224.2" stroke="#555" stroke-width="0.8"/>
<text x="19.2" y="225.8" font-size="4.6" font-weight="normal" fill="#4a4a4a" text-anchor="end" stroke="#4a4a4a" stroke-width="0.12">20</text>
<line x1="21.6" y1="220.2" x2="22.8" y2="220.2" stroke="#555" stroke-width="0.8"/>
<line x1="21.6" y1="216.2" x2="22.8" y2="216.2" stroke="#555" stroke-width="0.8"/>
<line x1="21.6" y1="212.2" x2="22.8" y2="212.2" stroke="#555" stroke-width="0.8"/>
<line x1="20.4" y1="208.2" x2="22.8" y2="208.2" stroke="#555" stroke-width="0.8"/>
<text x="19.2" y="209.8" font-size="4.6" font-weight="normal" fill="#4a4a4a" text-anchor="end" stroke="#4a4a4a" stroke-width="0.12">40</text>
<line x1="21.6" y1="204.2" x2="22.8" y2="204.2" stroke="#555" stroke-width="0.8"/>
<line x1="21.6" y1="200.2" x2="22.8" y2="200.2" stroke="#555" stroke-width="0.8"/>
<line x1="21.6" y1="196.2" x2="22.8" y2="196.2" stroke="#555" stroke-width="0.8"/>
<line x1="20.4" y1="192.2" x2="22.8" y2="192.2" stroke="#555" stroke-width="0.8"/>
<text x="19.2" y="193.8" font-size="4.6" font-weight="normal" fill="#4a4a4a" text-anchor="end" stroke="#4a4a4a" stroke-width="0.12">60</text>
<line x1="21.6" y1="188.2" x2="22.8" y2="188.2" stroke="#555" stroke-width="0.8"/>
<line x1="21.6" y1="184.2" x2="22.8" y2="184.2" stroke="#555" stroke-width="0.8"/>
<line x1="21.6" y1="180.2" x2="22.8" y2="180.2" stroke="#555" stroke-width="0.8"/>
<line x1="20.4" y1="176.2" x2="22.8" y2="176.2" stroke="#555" stroke-width="0.8"/>
<text x="19.2" y="177.8" font-size="4.6" font-weight="normal" fill="#4a4a4a" text-anchor="end" stroke="#4a4a4a" stroke-width="0.12">80</text>
<line x1="21.6" y1="172.2" x2="22.8" y2="172.2" stroke="#555" stroke-width="0.8"/>
<line x1="21.6" y1="168.2" x2="22.8" y2="168.2" stroke="#555" stroke-width="0.8"/>
<line x1="21.6" y1="164.2" x2="22.8" y2="164.2" stroke="#555" stroke-width="0.8"/>
<line x1="20.4" y1="160.2" x2="22.8" y2="160.2" stroke="#555" stroke-width="0.8"/>
<text x="19.2" y="161.8" font-size="4.6" font-weight="normal" fill="#4a4a4a" text-anchor="end" stroke="#4a4a4a" stroke-width="0.12">100</text>
<text x="24.99" y="249.3" font-size="4.4" font-weight="normal" fill="#505050" text-anchor="middle" stroke="#505050" stroke-width="0.25">10</text>
<text x="27.69" y="247" font-size="3" font-weight="normal" fill="#606060" text-anchor="middle" stroke="#606060" stroke-width="0.15">1</text>
<text x="40.46" y="249.3" font-size="4.4" font-weight="normal" fill="#505050" text-anchor="middle" stroke="#505050" stroke-width="0.25">10</text>
<text x="43.16" y="247" font-size="3" font-weight="normal" fill="#606060" text-anchor="middle" stroke="#606060" stroke-width="0.15">2</text>
<text x="57.72" y="249.3" font-size="4.4" font-weight="normal" fill="#505050" text-anchor="middle" stroke="#505050" stroke-width="0.25">10</text>
<text x="60.42" y="247" font-size="3" font-weight="normal" fill="#606060" text-anchor="middle" stroke="#606060" stroke-width="0.15">3</text>
<text x="74.98" y="249.3" font-size="4.4" font-weight="normal" fill="#505050" text-anchor="middle" stroke="#505050" stroke-width="0.25">10</text>
<text x="77.68" y="247" font-size="3" font-weight="normal" fill="#606060" text-anchor="middle" stroke="#606060" stroke-width="0.15">4</text>
<text x="92.14" y="249.3" font-size="4.4" font-weight="normal" fill="#505050" text-anchor="middle" stroke="#505050" stroke-width="0.25">10</text>
<text x="94.84" y="247" font-size="3" font-weight="normal" fill="#606060" text-anchor="middle" stroke="#606060" stroke-width="0.15">5</text>
<text x="103.41" y="249.3" font-size="4.4" font-weight="normal" fill="#505050" text-anchor="middle" stroke="#505050" stroke-width="0.25">10</text>
<text x="106.11" y="247" font-size="3" font-weight="normal" fill="#606060" text-anchor="middle" stroke="#606060" stroke-width="0.15">6</text>
<line x1="25.59" y1="241.5" x2="25.59" y2="243.5" stroke="#555" stroke-width="0.7"/>
<line x1="30.79" y1="241.5" x2="30.79" y2="242.5" stroke="#777" stroke-width="0.5"/>
<line x1="33.83" y1="241.5" x2="33.83" y2="242.5" stroke="#777" stroke-width="0.5"/>
<line x1="35.98" y1="241.5" x2="35.98" y2="242.5" stroke="#777" stroke-width="0.5"/>
<line x1="37.66" y1="241.5" x2="37.66" y2="242.5" stroke="#777" stroke-width="0.5"/>
<line x1="39.02" y1="241.5" x2="39.02" y2="242.5" stroke="#777" stroke-width="0.5"/>
<line x1="40.18" y1="241.5" x2="40.18" y2="242.5" stroke="#777" stroke-width="0.5"/>
<line x1="41.18" y1="241.5" x2="41.18" y2="242.5" stroke="#777" stroke-width="0.5"/>
<line x1="42.06" y1="241.5" x2="42.06" y2="242.5" stroke="#777" stroke-width="0.5"/>
<line x1="42.85" y1="241.5" x2="42.85" y2="243.5" stroke="#555" stroke-width="0.7"/>
<line x1="48.05" y1="241.5" x2="48.05" y2="242.5" stroke="#777" stroke-width="0.5"/>
<line x1="51.09" y1="241.5" x2="51.09" y2="242.5" stroke="#777" stroke-width="0.5"/>
<line x1="53.24" y1="241.5" x2="53.24" y2="242.5" stroke="#777" stroke-width="0.5"/>
<line x1="54.92" y1="241.5" x2="54.92" y2="242.5" stroke="#777" stroke-width="0.5"/>
<line x1="56.28" y1="241.5" x2="56.28" y2="242.5" stroke="#777" stroke-width="0.5"/>
<line x1="57.44" y1="241.5" x2="57.44" y2="242.5" stroke="#777" stroke-width="0.5"/>
<line x1="58.44" y1="241.5" x2="58.44" y2="242.5" stroke="#777" stroke-width="0.5"/>
<line x1="59.32" y1="241.5" x2="59.32" y2="242.5" stroke="#777" stroke-width="0.5"/>
<line x1="60.11" y1="241.5" x2="60.11" y2="243.5" stroke="#555" stroke-width="0.7"/>
<line x1="65.31" y1="241.5" x2="65.31" y2="242.5" stroke="#777" stroke-width="0.5"/>
<line x1="68.35" y1="241.5" x2="68.35" y2="242.5" stroke="#777" stroke-width="0.5"/>
<line x1="70.5" y1="241.5" x2="70.5" y2="242.5" stroke="#777" stroke-width="0.5"/>
<line x1="72.18" y1="241.5" x2="72.18" y2="242.5" stroke="#777" stroke-width="0.5"/>
<line x1="73.54" y1="241.5" x2="73.54" y2="242.5" stroke="#777" stroke-width="0.5"/>
<line x1="74.7" y1="241.5" x2="74.7" y2="242.5" stroke="#777" stroke-width="0.5"/>
<line x1="75.7" y1="241.5" x2="75.7" y2="242.5" stroke="#777" stroke-width="0.5"/>
<line x1="76.58" y1="241.5" x2="76.58" y2="242.5" stroke="#777" stroke-width="0.5"/>
<line x1="77.37" y1="241.5" x2="77.37" y2="243.5" stroke="#555" stroke-width="0.7"/>
<line x1="82.57" y1="241.5" x2="82.57" y2="242.5" stroke="#777" stroke-width="0.5"/>
<line x1="85.61" y1="241.5" x2="85.61" y2="242.5" stroke="#777" stroke-width="0.5"/>
<line x1="87.76" y1="241.5" x2="87.76" y2="242.5" stroke="#777" stroke-width="0.5"/>
<line x1="89.44" y1="241.5" x2="89.44" y2="242.5" stroke="#777" stroke-width="0.5"/>
<line x1="90.8" y1="241.5" x2="90.8" y2="242.5" stroke="#777" stroke-width="0.5"/>
<line x1="91.96" y1="241.5" x2="91.96" y2="242.5" stroke="#777" stroke-width="0.5"/>
<line x1="92.96" y1="241.5" x2="92.96" y2="242.5" stroke="#777" stroke-width="0.5"/>
<line x1="93.84" y1="241.5" x2="93.84" y2="242.5" stroke="#777" stroke-width="0.5"/>
<line x1="94.63" y1="241.5" x2="94.63" y2="243.5" stroke="#555" stroke-width="0.7"/>
<line x1="99.83" y1="241.5" x2="99.83" y2="242.5" stroke="#777" stroke-width="0.5"/>
<line x1="102.87" y1="241.5" x2="102.87" y2="242.5" stroke="#777" stroke-width="0.5"/>
<line x1="105.02" y1="241.5" x2="105.02" y2="242.5" stroke="#777" stroke-width="0.5"/>
<line x1="106.69" y1="241.5" x2="106.69" y2="242.5" stroke="#777" stroke-width="0.5"/>
<path d="M22.6,202.7 C22.75,208.18 23.07,229.47 23.5,235.6 C23.93,241.73 24.2,239.2 25.2,239.5 C26.2,239.8 28.05,238.33 29.5,237.4 C30.95,236.47 32.6,235.63 33.9,233.9 C35.2,232.17 36.3,231.03 37.3,227 C38.3,222.97 39.03,215.62 39.9,209.7 C40.77,203.78 41.77,193.53 42.5,191.5 C43.23,189.47 43.63,198.95 44.3,197.5 C44.97,196.05 45.78,183.37 46.5,182.8 C47.22,182.23 47.82,191.65 48.6,194.1 C49.38,196.55 50.48,197.65 51.2,197.5 C51.92,197.35 52.18,192.62 52.9,193.2 C53.62,193.78 54.63,200.13 55.5,201 C56.37,201.87 57.23,196.67 58.1,198.4 C58.97,200.13 59.97,210.25 60.7,211.4 C61.43,212.55 61.77,205.58 62.5,205.3 C63.23,205.02 64.23,207.25 65.1,209.7 C65.97,212.15 66.83,218.85 67.7,220 C68.57,221.15 69.43,218.62 70.3,216.6 C71.17,214.58 72.1,207.9 72.9,207.9 C73.7,207.9 74.38,212.27 75.1,216.6 C75.82,220.93 76.42,229.87 77.2,233.9 C77.98,237.93 78.07,239.58 79.8,240.8 C81.53,242.02 86.3,241.13 87.6,241.2" fill="none" stroke="#3030ff" stroke-width="0.95" stroke-linejoin="round"/>
<path d="M22.6,225.2 C22.88,227.67 23.15,237.4 24.3,240 C25.45,242.6 27.62,241.23 29.5,240.8 C31.38,240.37 33.72,239.12 35.6,237.4 C37.48,235.68 39.5,233.25 40.8,230.5 C42.1,227.75 42.53,223.22 43.4,220.9 C44.27,218.58 45.13,218.18 46,216.6 C46.87,215.02 47.88,213.28 48.6,211.4 C49.32,209.52 49.58,206.17 50.3,205.3 C51.02,204.43 52.03,207.93 52.9,206.2 C53.77,204.47 54.77,196.48 55.5,194.9 C56.23,193.32 56.72,196.55 57.3,196.7 C57.88,196.85 58.28,195.67 59,195.8 C59.72,195.93 60.73,196.63 61.6,197.5 C62.47,198.37 63.48,199.12 64.2,201 C64.92,202.88 65.18,205.48 65.9,208.8 C66.62,212.12 67.48,219.17 68.5,220.9 C69.52,222.63 70.98,219.92 72,219.2 C73.02,218.48 73.73,214.43 74.6,216.6 C75.47,218.77 76.33,228.22 77.2,232.2 C78.07,236.18 78.07,239 79.8,240.5 C81.53,242 86.3,241.08 87.6,241.2" fill="none" stroke="#ff3030" stroke-width="0.95" stroke-linejoin="round"/>
<text x="60.4" y="166.4" font-size="10" font-weight="bold" fill="#000" text-anchor="start" stroke="#000" stroke-width="0.22" textLength="35.2" lengthAdjust="spacingAndGlyphs">d6, MFI</text>
<text x="58" y="178" font-size="10" font-weight="normal" fill="#3535ff" text-anchor="start" stroke="#3535ff" stroke-width="0.3" textLength="35" lengthAdjust="spacingAndGlyphs">Con: 650</text>
<text x="60" y="190" font-size="10" font-weight="normal" fill="#ff2d2d" text-anchor="start" stroke="#ff2d2d" stroke-width="0.3" textLength="37" lengthAdjust="spacingAndGlyphs">KO: 1132</text>
<text x="48.7" y="260" font-size="11" font-weight="bold" fill="#000" text-anchor="start" stroke="#000" stroke-width="0.22" textLength="26.3" lengthAdjust="spacingAndGlyphs">CD44</text>
<text transform="translate(11.8,197.1) rotate(-90)" x="0" y="0" font-size="10.6" font-weight="bold" fill="#000" text-anchor="middle" stroke="#000" stroke-width="0.22" textLength="43.8" lengthAdjust="spacingAndGlyphs">% of max</text>
<line x1="120.4" y1="158.3" x2="205.4" y2="158.3" stroke="#a0a0a0" stroke-width="1"/>
<line x1="205.4" y1="158.3" x2="205.4" y2="242.4" stroke="#a0a0a0" stroke-width="1"/>
<line x1="120.4" y1="158.3" x2="120.4" y2="242.4" stroke="#555" stroke-width="0.9"/>
<line x1="120.4" y1="242.4" x2="205.4" y2="242.4" stroke="#555" stroke-width="0.9"/>
<line x1="118" y1="241.1" x2="120.4" y2="241.1" stroke="#555" stroke-width="0.8"/>
<text x="116.8" y="242.7" font-size="4.6" font-weight="normal" fill="#4a4a4a" text-anchor="end" stroke="#4a4a4a" stroke-width="0.12">0</text>
<line x1="119.2" y1="237.17" x2="120.4" y2="237.17" stroke="#555" stroke-width="0.8"/>
<line x1="119.2" y1="233.24" x2="120.4" y2="233.24" stroke="#555" stroke-width="0.8"/>
<line x1="119.2" y1="229.31" x2="120.4" y2="229.31" stroke="#555" stroke-width="0.8"/>
<line x1="118" y1="225.38" x2="120.4" y2="225.38" stroke="#555" stroke-width="0.8"/>
<text x="116.8" y="226.98" font-size="4.6" font-weight="normal" fill="#4a4a4a" text-anchor="end" stroke="#4a4a4a" stroke-width="0.12">20</text>
<line x1="119.2" y1="221.45" x2="120.4" y2="221.45" stroke="#555" stroke-width="0.8"/>
<line x1="119.2" y1="217.52" x2="120.4" y2="217.52" stroke="#555" stroke-width="0.8"/>
<line x1="119.2" y1="213.59" x2="120.4" y2="213.59" stroke="#555" stroke-width="0.8"/>
<line x1="118" y1="209.66" x2="120.4" y2="209.66" stroke="#555" stroke-width="0.8"/>
<text x="116.8" y="211.26" font-size="4.6" font-weight="normal" fill="#4a4a4a" text-anchor="end" stroke="#4a4a4a" stroke-width="0.12">40</text>
<line x1="119.2" y1="205.73" x2="120.4" y2="205.73" stroke="#555" stroke-width="0.8"/>
<line x1="119.2" y1="201.8" x2="120.4" y2="201.8" stroke="#555" stroke-width="0.8"/>
<line x1="119.2" y1="197.87" x2="120.4" y2="197.87" stroke="#555" stroke-width="0.8"/>
<line x1="118" y1="193.94" x2="120.4" y2="193.94" stroke="#555" stroke-width="0.8"/>
<text x="116.8" y="195.54" font-size="4.6" font-weight="normal" fill="#4a4a4a" text-anchor="end" stroke="#4a4a4a" stroke-width="0.12">60</text>
<line x1="119.2" y1="190.01" x2="120.4" y2="190.01" stroke="#555" stroke-width="0.8"/>
<line x1="119.2" y1="186.08" x2="120.4" y2="186.08" stroke="#555" stroke-width="0.8"/>
<line x1="119.2" y1="182.15" x2="120.4" y2="182.15" stroke="#555" stroke-width="0.8"/>
<line x1="118" y1="178.22" x2="120.4" y2="178.22" stroke="#555" stroke-width="0.8"/>
<text x="116.8" y="179.82" font-size="4.6" font-weight="normal" fill="#4a4a4a" text-anchor="end" stroke="#4a4a4a" stroke-width="0.12">80</text>
<line x1="119.2" y1="174.29" x2="120.4" y2="174.29" stroke="#555" stroke-width="0.8"/>
<line x1="119.2" y1="170.36" x2="120.4" y2="170.36" stroke="#555" stroke-width="0.8"/>
<line x1="119.2" y1="166.43" x2="120.4" y2="166.43" stroke="#555" stroke-width="0.8"/>
<line x1="118" y1="162.5" x2="120.4" y2="162.5" stroke="#555" stroke-width="0.8"/>
<text x="116.8" y="164.1" font-size="4.6" font-weight="normal" fill="#4a4a4a" text-anchor="end" stroke="#4a4a4a" stroke-width="0.12">100</text>
<text x="122.6" y="250.2" font-size="4.4" font-weight="normal" fill="#505050" text-anchor="middle" stroke="#505050" stroke-width="0.25">10</text>
<text x="125.3" y="247.9" font-size="3" font-weight="normal" fill="#606060" text-anchor="middle" stroke="#606060" stroke-width="0.15">1</text>
<text x="138.1" y="250.2" font-size="4.4" font-weight="normal" fill="#505050" text-anchor="middle" stroke="#505050" stroke-width="0.25">10</text>
<text x="140.8" y="247.9" font-size="3" font-weight="normal" fill="#606060" text-anchor="middle" stroke="#606060" stroke-width="0.15">2</text>
<text x="155.4" y="250.2" font-size="4.4" font-weight="normal" fill="#505050" text-anchor="middle" stroke="#505050" stroke-width="0.25">10</text>
<text x="158.1" y="247.9" font-size="3" font-weight="normal" fill="#606060" text-anchor="middle" stroke="#606060" stroke-width="0.15">3</text>
<text x="172.7" y="250.2" font-size="4.4" font-weight="normal" fill="#505050" text-anchor="middle" stroke="#505050" stroke-width="0.25">10</text>
<text x="175.4" y="247.9" font-size="3" font-weight="normal" fill="#606060" text-anchor="middle" stroke="#606060" stroke-width="0.15">4</text>
<text x="189.9" y="250.2" font-size="4.4" font-weight="normal" fill="#505050" text-anchor="middle" stroke="#505050" stroke-width="0.25">10</text>
<text x="192.6" y="247.9" font-size="3" font-weight="normal" fill="#606060" text-anchor="middle" stroke="#606060" stroke-width="0.15">5</text>
<text x="201.2" y="250.2" font-size="4.4" font-weight="normal" fill="#505050" text-anchor="middle" stroke="#505050" stroke-width="0.25">10</text>
<text x="203.9" y="247.9" font-size="3" font-weight="normal" fill="#606060" text-anchor="middle" stroke="#606060" stroke-width="0.15">6</text>
<line x1="123.2" y1="242.4" x2="123.2" y2="244.4" stroke="#555" stroke-width="0.7"/>
<line x1="128.41" y1="242.4" x2="128.41" y2="243.4" stroke="#777" stroke-width="0.5"/>
<line x1="131.45" y1="242.4" x2="131.45" y2="243.4" stroke="#777" stroke-width="0.5"/>
<line x1="133.62" y1="242.4" x2="133.62" y2="243.4" stroke="#777" stroke-width="0.5"/>
<line x1="135.29" y1="242.4" x2="135.29" y2="243.4" stroke="#777" stroke-width="0.5"/>
<line x1="136.66" y1="242.4" x2="136.66" y2="243.4" stroke="#777" stroke-width="0.5"/>
<line x1="137.82" y1="242.4" x2="137.82" y2="243.4" stroke="#777" stroke-width="0.5"/>
<line x1="138.82" y1="242.4" x2="138.82" y2="243.4" stroke="#777" stroke-width="0.5"/>
<line x1="139.71" y1="242.4" x2="139.71" y2="243.4" stroke="#777" stroke-width="0.5"/>
<line x1="140.5" y1="242.4" x2="140.5" y2="244.4" stroke="#555" stroke-width="0.7"/>
<line x1="145.71" y1="242.4" x2="145.71" y2="243.4" stroke="#777" stroke-width="0.5"/>
<line x1="148.75" y1="242.4" x2="148.75" y2="243.4" stroke="#777" stroke-width="0.5"/>
<line x1="150.92" y1="242.4" x2="150.92" y2="243.4" stroke="#777" stroke-width="0.5"/>
<line x1="152.59" y1="242.4" x2="152.59" y2="243.4" stroke="#777" stroke-width="0.5"/>
<line x1="153.96" y1="242.4" x2="153.96" y2="243.4" stroke="#777" stroke-width="0.5"/>
<line x1="155.12" y1="242.4" x2="155.12" y2="243.4" stroke="#777" stroke-width="0.5"/>
<line x1="156.12" y1="242.4" x2="156.12" y2="243.4" stroke="#777" stroke-width="0.5"/>
<line x1="157.01" y1="242.4" x2="157.01" y2="243.4" stroke="#777" stroke-width="0.5"/>
<line x1="157.8" y1="242.4" x2="157.8" y2="244.4" stroke="#555" stroke-width="0.7"/>
<line x1="163.01" y1="242.4" x2="163.01" y2="243.4" stroke="#777" stroke-width="0.5"/>
<line x1="166.05" y1="242.4" x2="166.05" y2="243.4" stroke="#777" stroke-width="0.5"/>
<line x1="168.22" y1="242.4" x2="168.22" y2="243.4" stroke="#777" stroke-width="0.5"/>
<line x1="169.89" y1="242.4" x2="169.89" y2="243.4" stroke="#777" stroke-width="0.5"/>
<line x1="171.26" y1="242.4" x2="171.26" y2="243.4" stroke="#777" stroke-width="0.5"/>
<line x1="172.42" y1="242.4" x2="172.42" y2="243.4" stroke="#777" stroke-width="0.5"/>
<line x1="173.42" y1="242.4" x2="173.42" y2="243.4" stroke="#777" stroke-width="0.5"/>
<line x1="174.31" y1="242.4" x2="174.31" y2="243.4" stroke="#777" stroke-width="0.5"/>
<line x1="175.1" y1="242.4" x2="175.1" y2="244.4" stroke="#555" stroke-width="0.7"/>
<line x1="180.31" y1="242.4" x2="180.31" y2="243.4" stroke="#777" stroke-width="0.5"/>
<line x1="183.35" y1="242.4" x2="183.35" y2="243.4" stroke="#777" stroke-width="0.5"/>
<line x1="185.52" y1="242.4" x2="185.52" y2="243.4" stroke="#777" stroke-width="0.5"/>
<line x1="187.19" y1="242.4" x2="187.19" y2="243.4" stroke="#777" stroke-width="0.5"/>
<line x1="188.56" y1="242.4" x2="188.56" y2="243.4" stroke="#777" stroke-width="0.5"/>
<line x1="189.72" y1="242.4" x2="189.72" y2="243.4" stroke="#777" stroke-width="0.5"/>
<line x1="190.72" y1="242.4" x2="190.72" y2="243.4" stroke="#777" stroke-width="0.5"/>
<line x1="191.61" y1="242.4" x2="191.61" y2="243.4" stroke="#777" stroke-width="0.5"/>
<line x1="192.4" y1="242.4" x2="192.4" y2="244.4" stroke="#555" stroke-width="0.7"/>
<line x1="197.61" y1="242.4" x2="197.61" y2="243.4" stroke="#777" stroke-width="0.5"/>
<line x1="200.65" y1="242.4" x2="200.65" y2="243.4" stroke="#777" stroke-width="0.5"/>
<line x1="202.82" y1="242.4" x2="202.82" y2="243.4" stroke="#777" stroke-width="0.5"/>
<line x1="204.49" y1="242.4" x2="204.49" y2="243.4" stroke="#777" stroke-width="0.5"/>
<path d="M121.5,242.2 C122.37,241.97 125.12,241.17 126.7,240.8 C128.28,240.43 129.7,241 131,240 C132.3,239 133.35,236.68 134.5,234.8 C135.65,232.92 136.9,231.45 137.9,228.7 C138.9,225.95 139.77,221.77 140.5,218.3 C141.23,214.83 141.78,210.07 142.3,207.9 C142.82,205.73 143.08,204.57 143.6,205.3 C144.12,206.03 144.75,212.15 145.4,212.3 C146.05,212.45 146.78,205.63 147.5,206.2 C148.22,206.77 148.83,214.83 149.7,215.7 C150.57,216.57 151.77,211.68 152.7,211.4 C153.63,211.12 154.43,211.98 155.3,214 C156.17,216.02 157.03,223.93 157.9,223.5 C158.77,223.07 159.58,212.27 160.5,211.4 C161.42,210.53 162.53,218.88 163.4,218.3 C164.27,217.72 164.95,212.95 165.7,207.9 C166.45,202.85 167.18,190.3 167.9,188 C168.62,185.7 169.37,193.38 170,194.1 C170.63,194.82 171.13,189.42 171.7,192.3 C172.27,195.18 172.68,204.47 173.4,211.4 C174.12,218.33 175.13,228.85 176,233.9 C176.87,238.95 177.3,240.32 178.6,241.7 C179.9,243.08 182.93,242.12 183.8,242.2" fill="none" stroke="#3030ff" stroke-width="0.95" stroke-linejoin="round"/>
<path d="M121.5,242.2 C123.23,242.2 129.3,242.57 131.9,242.2 C134.5,241.83 135.37,241.23 137.1,240 C138.83,238.77 140.57,236.38 142.3,234.8 C144.03,233.22 145.92,232.08 147.5,230.5 C149.08,228.92 150.65,227.33 151.8,225.3 C152.95,223.27 153.53,220.77 154.4,218.3 C155.27,215.83 156.13,212.37 157,210.5 C157.87,208.63 158.82,208.97 159.6,207.1 C160.38,205.23 160.98,198.73 161.7,199.3 C162.42,199.87 163.15,210.22 163.9,210.5 C164.65,210.78 165.33,201.28 166.2,201 C167.07,200.72 168.03,207.07 169.1,208.8 C170.17,210.53 171.58,208.08 172.6,211.4 C173.62,214.72 174.33,223.93 175.2,228.7 C176.07,233.47 176.65,237.75 177.8,240 C178.95,242.25 181.38,241.83 182.1,242.2" fill="none" stroke="#ff3030" stroke-width="0.95" stroke-linejoin="round"/>
<text x="125.8" y="167.5" font-size="10" font-weight="bold" fill="#000" text-anchor="start" stroke="#000" stroke-width="0.22" textLength="35" lengthAdjust="spacingAndGlyphs">d9, MFI</text>
<text x="122.5" y="180" font-size="10" font-weight="normal" fill="#3535ff" text-anchor="start" stroke="#3535ff" stroke-width="0.3" textLength="40.5" lengthAdjust="spacingAndGlyphs">Con: 1370</text>
<text x="122.5" y="190.7" font-size="10" font-weight="normal" fill="#ff2d2d" text-anchor="start" stroke="#ff2d2d" stroke-width="0.3" textLength="40.5" lengthAdjust="spacingAndGlyphs">KO:&#160;&#160;2460</text>
<text x="148.2" y="259.5" font-size="11" font-weight="bold" fill="#000" text-anchor="start" stroke="#000" stroke-width="0.22" textLength="26.3" lengthAdjust="spacingAndGlyphs">CD44</text>
<line x1="351.7" y1="156.8" x2="437.3" y2="156.8" stroke="#a0a0a0" stroke-width="1"/>
<line x1="437.3" y1="156.8" x2="437.3" y2="241.3" stroke="#a0a0a0" stroke-width="1"/>
<line x1="351.7" y1="156.8" x2="351.7" y2="241.3" stroke="#555" stroke-width="0.9"/>
<line x1="351.7" y1="241.3" x2="437.3" y2="241.3" stroke="#555" stroke-width="0.9"/>
<line x1="349.3" y1="240" x2="351.7" y2="240" stroke="#555" stroke-width="0.8"/>
<text x="348.1" y="241.6" font-size="4.6" font-weight="normal" fill="#4a4a4a" text-anchor="end" stroke="#4a4a4a" stroke-width="0.12">0</text>
<line x1="350.5" y1="236.05" x2="351.7" y2="236.05" stroke="#555" stroke-width="0.8"/>
<line x1="350.5" y1="232.1" x2="351.7" y2="232.1" stroke="#555" stroke-width="0.8"/>
<line x1="350.5" y1="228.15" x2="351.7" y2="228.15" stroke="#555" stroke-width="0.8"/>
<line x1="349.3" y1="224.2" x2="351.7" y2="224.2" stroke="#555" stroke-width="0.8"/>
<text x="348.1" y="225.8" font-size="4.6" font-weight="normal" fill="#4a4a4a" text-anchor="end" stroke="#4a4a4a" stroke-width="0.12">20</text>
<line x1="350.5" y1="220.25" x2="351.7" y2="220.25" stroke="#555" stroke-width="0.8"/>
<line x1="350.5" y1="216.3" x2="351.7" y2="216.3" stroke="#555" stroke-width="0.8"/>
<line x1="350.5" y1="212.35" x2="351.7" y2="212.35" stroke="#555" stroke-width="0.8"/>
<line x1="349.3" y1="208.4" x2="351.7" y2="208.4" stroke="#555" stroke-width="0.8"/>
<text x="348.1" y="210" font-size="4.6" font-weight="normal" fill="#4a4a4a" text-anchor="end" stroke="#4a4a4a" stroke-width="0.12">40</text>
<line x1="350.5" y1="204.45" x2="351.7" y2="204.45" stroke="#555" stroke-width="0.8"/>
<line x1="350.5" y1="200.5" x2="351.7" y2="200.5" stroke="#555" stroke-width="0.8"/>
<line x1="350.5" y1="196.55" x2="351.7" y2="196.55" stroke="#555" stroke-width="0.8"/>
<line x1="349.3" y1="192.6" x2="351.7" y2="192.6" stroke="#555" stroke-width="0.8"/>
<text x="348.1" y="194.2" font-size="4.6" font-weight="normal" fill="#4a4a4a" text-anchor="end" stroke="#4a4a4a" stroke-width="0.12">60</text>
<line x1="350.5" y1="188.65" x2="351.7" y2="188.65" stroke="#555" stroke-width="0.8"/>
<line x1="350.5" y1="184.7" x2="351.7" y2="184.7" stroke="#555" stroke-width="0.8"/>
<line x1="350.5" y1="180.75" x2="351.7" y2="180.75" stroke="#555" stroke-width="0.8"/>
<line x1="349.3" y1="176.8" x2="351.7" y2="176.8" stroke="#555" stroke-width="0.8"/>
<text x="348.1" y="178.4" font-size="4.6" font-weight="normal" fill="#4a4a4a" text-anchor="end" stroke="#4a4a4a" stroke-width="0.12">80</text>
<line x1="350.5" y1="172.85" x2="351.7" y2="172.85" stroke="#555" stroke-width="0.8"/>
<line x1="350.5" y1="168.9" x2="351.7" y2="168.9" stroke="#555" stroke-width="0.8"/>
<line x1="350.5" y1="164.95" x2="351.7" y2="164.95" stroke="#555" stroke-width="0.8"/>
<line x1="349.3" y1="161" x2="351.7" y2="161" stroke="#555" stroke-width="0.8"/>
<text x="348.1" y="162.6" font-size="4.6" font-weight="normal" fill="#4a4a4a" text-anchor="end" stroke="#4a4a4a" stroke-width="0.12">100</text>
<text x="353.92" y="249.1" font-size="4.4" font-weight="normal" fill="#505050" text-anchor="middle" stroke="#505050" stroke-width="0.25">10</text>
<text x="356.62" y="246.8" font-size="3" font-weight="normal" fill="#606060" text-anchor="middle" stroke="#606060" stroke-width="0.15">0</text>
<text x="366.91" y="249.1" font-size="4.4" font-weight="normal" fill="#505050" text-anchor="middle" stroke="#505050" stroke-width="0.25">10</text>
<text x="369.61" y="246.8" font-size="3" font-weight="normal" fill="#606060" text-anchor="middle" stroke="#606060" stroke-width="0.15">1</text>
<text x="380.81" y="249.1" font-size="4.4" font-weight="normal" fill="#505050" text-anchor="middle" stroke="#505050" stroke-width="0.25">10</text>
<text x="383.51" y="246.8" font-size="3" font-weight="normal" fill="#606060" text-anchor="middle" stroke="#606060" stroke-width="0.15">2</text>
<text x="395.61" y="249.1" font-size="4.4" font-weight="normal" fill="#505050" text-anchor="middle" stroke="#505050" stroke-width="0.25">10</text>
<text x="398.31" y="246.8" font-size="3" font-weight="normal" fill="#606060" text-anchor="middle" stroke="#606060" stroke-width="0.15">3</text>
<text x="410.42" y="249.1" font-size="4.4" font-weight="normal" fill="#505050" text-anchor="middle" stroke="#505050" stroke-width="0.25">10</text>
<text x="413.12" y="246.8" font-size="3" font-weight="normal" fill="#606060" text-anchor="middle" stroke="#606060" stroke-width="0.15">4</text>
<text x="423.51" y="249.1" font-size="4.4" font-weight="normal" fill="#505050" text-anchor="middle" stroke="#505050" stroke-width="0.25">10</text>
<text x="426.21" y="246.8" font-size="3" font-weight="normal" fill="#606060" text-anchor="middle" stroke="#606060" stroke-width="0.15">5</text>
<text x="433.07" y="249.1" font-size="4.4" font-weight="normal" fill="#505050" text-anchor="middle" stroke="#505050" stroke-width="0.25">10</text>
<text x="435.77" y="246.8" font-size="3" font-weight="normal" fill="#606060" text-anchor="middle" stroke="#606060" stroke-width="0.15">6</text>
<line x1="354.52" y1="241.3" x2="354.52" y2="243.3" stroke="#555" stroke-width="0.7"/>
<line x1="358.49" y1="241.3" x2="358.49" y2="242.3" stroke="#777" stroke-width="0.5"/>
<line x1="360.81" y1="241.3" x2="360.81" y2="242.3" stroke="#777" stroke-width="0.5"/>
<line x1="362.46" y1="241.3" x2="362.46" y2="242.3" stroke="#777" stroke-width="0.5"/>
<line x1="363.74" y1="241.3" x2="363.74" y2="242.3" stroke="#777" stroke-width="0.5"/>
<line x1="364.79" y1="241.3" x2="364.79" y2="242.3" stroke="#777" stroke-width="0.5"/>
<line x1="365.67" y1="241.3" x2="365.67" y2="242.3" stroke="#777" stroke-width="0.5"/>
<line x1="366.43" y1="241.3" x2="366.43" y2="242.3" stroke="#777" stroke-width="0.5"/>
<line x1="367.11" y1="241.3" x2="367.11" y2="242.3" stroke="#777" stroke-width="0.5"/>
<line x1="367.71" y1="241.3" x2="367.71" y2="243.3" stroke="#555" stroke-width="0.7"/>
<line x1="371.68" y1="241.3" x2="371.68" y2="242.3" stroke="#777" stroke-width="0.5"/>
<line x1="374.01" y1="241.3" x2="374.01" y2="242.3" stroke="#777" stroke-width="0.5"/>
<line x1="375.65" y1="241.3" x2="375.65" y2="242.3" stroke="#777" stroke-width="0.5"/>
<line x1="376.93" y1="241.3" x2="376.93" y2="242.3" stroke="#777" stroke-width="0.5"/>
<line x1="377.98" y1="241.3" x2="377.98" y2="242.3" stroke="#777" stroke-width="0.5"/>
<line x1="378.86" y1="241.3" x2="378.86" y2="242.3" stroke="#777" stroke-width="0.5"/>
<line x1="379.63" y1="241.3" x2="379.63" y2="242.3" stroke="#777" stroke-width="0.5"/>
<line x1="380.3" y1="241.3" x2="380.3" y2="242.3" stroke="#777" stroke-width="0.5"/>
<line x1="380.9" y1="241.3" x2="380.9" y2="243.3" stroke="#555" stroke-width="0.7"/>
<line x1="384.88" y1="241.3" x2="384.88" y2="242.3" stroke="#777" stroke-width="0.5"/>
<line x1="387.2" y1="241.3" x2="387.2" y2="242.3" stroke="#777" stroke-width="0.5"/>
<line x1="388.85" y1="241.3" x2="388.85" y2="242.3" stroke="#777" stroke-width="0.5"/>
<line x1="390.13" y1="241.3" x2="390.13" y2="242.3" stroke="#777" stroke-width="0.5"/>
<line x1="391.17" y1="241.3" x2="391.17" y2="242.3" stroke="#777" stroke-width="0.5"/>
<line x1="392.05" y1="241.3" x2="392.05" y2="242.3" stroke="#777" stroke-width="0.5"/>
<line x1="392.82" y1="241.3" x2="392.82" y2="242.3" stroke="#777" stroke-width="0.5"/>
<line x1="393.49" y1="241.3" x2="393.49" y2="242.3" stroke="#777" stroke-width="0.5"/>
<line x1="394.1" y1="241.3" x2="394.1" y2="243.3" stroke="#555" stroke-width="0.7"/>
<line x1="398.07" y1="241.3" x2="398.07" y2="242.3" stroke="#777" stroke-width="0.5"/>
<line x1="400.39" y1="241.3" x2="400.39" y2="242.3" stroke="#777" stroke-width="0.5"/>
<line x1="402.04" y1="241.3" x2="402.04" y2="242.3" stroke="#777" stroke-width="0.5"/>
<line x1="403.32" y1="241.3" x2="403.32" y2="242.3" stroke="#777" stroke-width="0.5"/>
<line x1="404.36" y1="241.3" x2="404.36" y2="242.3" stroke="#777" stroke-width="0.5"/>
<line x1="405.25" y1="241.3" x2="405.25" y2="242.3" stroke="#777" stroke-width="0.5"/>
<line x1="406.01" y1="241.3" x2="406.01" y2="242.3" stroke="#777" stroke-width="0.5"/>
<line x1="406.69" y1="241.3" x2="406.69" y2="242.3" stroke="#777" stroke-width="0.5"/>
<line x1="407.29" y1="241.3" x2="407.29" y2="243.3" stroke="#555" stroke-width="0.7"/>
<line x1="411.26" y1="241.3" x2="411.26" y2="242.3" stroke="#777" stroke-width="0.5"/>
<line x1="413.58" y1="241.3" x2="413.58" y2="242.3" stroke="#777" stroke-width="0.5"/>
<line x1="415.23" y1="241.3" x2="415.23" y2="242.3" stroke="#777" stroke-width="0.5"/>
<line x1="416.51" y1="241.3" x2="416.51" y2="242.3" stroke="#777" stroke-width="0.5"/>
<line x1="417.56" y1="241.3" x2="417.56" y2="242.3" stroke="#777" stroke-width="0.5"/>
<line x1="418.44" y1="241.3" x2="418.44" y2="242.3" stroke="#777" stroke-width="0.5"/>
<line x1="419.2" y1="241.3" x2="419.2" y2="242.3" stroke="#777" stroke-width="0.5"/>
<line x1="419.88" y1="241.3" x2="419.88" y2="242.3" stroke="#777" stroke-width="0.5"/>
<line x1="420.48" y1="241.3" x2="420.48" y2="243.3" stroke="#555" stroke-width="0.7"/>
<line x1="424.45" y1="241.3" x2="424.45" y2="242.3" stroke="#777" stroke-width="0.5"/>
<line x1="426.78" y1="241.3" x2="426.78" y2="242.3" stroke="#777" stroke-width="0.5"/>
<line x1="428.42" y1="241.3" x2="428.42" y2="242.3" stroke="#777" stroke-width="0.5"/>
<line x1="429.7" y1="241.3" x2="429.7" y2="242.3" stroke="#777" stroke-width="0.5"/>
<line x1="430.75" y1="241.3" x2="430.75" y2="242.3" stroke="#777" stroke-width="0.5"/>
<line x1="431.63" y1="241.3" x2="431.63" y2="242.3" stroke="#777" stroke-width="0.5"/>
<line x1="432.4" y1="241.3" x2="432.4" y2="242.3" stroke="#777" stroke-width="0.5"/>
<line x1="433.07" y1="241.3" x2="433.07" y2="242.3" stroke="#777" stroke-width="0.5"/>
<polyline points="353,241.3 353.6,241.3 354.2,241.3 354.8,241.3 355.4,241.3 356,241.3 356.6,241.3 357.2,241.3 357.8,241.3 358.4,241.3 359,241.3 359.6,241.3 360.2,241.3 360.8,241.3 361.4,241.3 362,241.3 362.6,241.3 363.2,241.29 363.8,241.28 364.4,241.27 365,241.25 365.6,241.21 366.2,241.14 366.8,241.03 367.4,240.84 368,240.55 368.6,240.1 369.2,239.41 369.8,238.38 370.4,236.89 371,234.79 371.6,231.89 372.2,228.03 372.8,223.05 373.4,216.85 374,209.44 374.6,201.02 375.2,192.01 375.8,183.19 376.4,175.72 377,171.7 377.6,176.31 378.2,184.75 378.8,194.46 379.4,203.97 380,212.34 380.6,219.07 381.2,224.06 381.8,227.51 382.4,229.87 383,231.56 383.6,232.89 384.2,233.94 384.8,234.72 385.4,235.38 386,236.05 386.6,236.77 387.2,237.55 387.8,238.35 388.4,239.1 389,239.77 389.6,240.3 390.2,240.7 390.8,240.96 391.4,241.13 392,241.22 392.6,241.26 393.2,241.29 393.8,241.29 394.4,241.3 395,241.3 395.6,241.3 396.2,241.3 396.8,241.3 397.4,241.3 398,241.3 398.6,241.3 399.2,241.3 399.8,241.3 400.4,241.3 401,241.3 401.6,241.3 402.2,241.3 402.8,241.3 403.4,241.3 404,241.3 404.6,241.3 405.2,241.3 405.8,241.3 406.4,241.3 407,241.3 407.6,241.3 408.2,241.3 408.8,241.3 409.4,241.3 410,241.3 410.6,241.3 411.2,241.3 411.8,241.3 412.4,241.3 413,241.3 413.6,241.3 414.2,241.3 414.8,241.3 415.4,241.3 416,241.3 416.6,241.3 417.2,241.3 417.8,241.3 418.4,241.3 419,241.3 419.6,241.3 420.2,241.3 420.8,241.3 421.4,241.3 422,241.3 422.6,241.3 423.2,241.3 423.8,241.3 424.4,241.3 425,241.3 425.6,241.3 426.2,241.3 426.8,241.3 427.4,241.3 428,241.3 428.6,241.3 429.2,241.3 429.8,241.3 430.4,241.3 431,241.3 431.6,241.3 432.2,241.3 432.8,241.3 433.4,241.3 434,241.3 434.6,241.3 435.2,241.3 435.8,241.3 436.4,241.3 437,241.3" fill="none" stroke="#3030ff" stroke-width="1.1" stroke-linejoin="round"/>
<polyline points="353,241.3 353.6,241.3 354.2,241.3 354.8,241.3 355.4,241.3 356,241.3 356.6,241.3 357.2,241.3 357.8,241.3 358.4,241.3 359,241.3 359.6,241.3 360.2,241.3 360.8,241.3 361.4,241.3 362,241.3 362.6,241.29 363.2,241.28 363.8,241.27 364.4,241.25 365,241.22 365.6,241.15 366.2,241.06 366.8,240.89 367.4,240.64 368,240.25 368.6,239.65 369.2,238.76 369.8,237.47 370.4,235.64 371,233.12 371.6,229.72 372.2,225.27 372.8,219.65 373.4,212.78 374,204.74 374.6,195.78 375.2,186.41 375.8,177.46 376.4,170.21 377,167.4 377.6,173.06 378.2,182.02 378.8,192.04 379.4,201.74 380,210.27 380.6,217.2 381.2,222.54 381.8,226.51 382.4,229.49 383,231.78 383.6,233.53 384.2,234.82 384.8,235.91 385.4,236.93 386,237.94 386.6,238.9 387.2,239.74 387.8,240.38 388.4,240.82 389,241.07 389.6,241.21 390.2,241.27 390.8,241.29 391.4,241.3 392,241.3 392.6,241.3 393.2,241.3 393.8,241.3 394.4,241.3 395,241.3 395.6,241.3 396.2,241.3 396.8,241.3 397.4,241.3 398,241.3 398.6,241.3 399.2,241.3 399.8,241.3 400.4,241.3 401,241.3 401.6,241.3 402.2,241.3 402.8,241.3 403.4,241.3 404,241.3 404.6,241.3 405.2,241.3 405.8,241.3 406.4,241.3 407,241.3 407.6,241.3 408.2,241.3 408.8,241.3 409.4,241.3 410,241.3 410.6,241.3 411.2,241.3 411.8,241.3 412.4,241.3 413,241.3 413.6,241.3 414.2,241.3 414.8,241.3 415.4,241.3 416,241.3 416.6,241.3 417.2,241.3 417.8,241.3 418.4,241.3 419,241.3 419.6,241.3 420.2,241.3 420.8,241.3 421.4,241.3 422,241.3 422.6,241.3 423.2,241.3 423.8,241.3 424.4,241.3 425,241.3 425.6,241.3 426.2,241.3 426.8,241.3 427.4,241.3 428,241.3 428.6,241.3 429.2,241.3 429.8,241.3 430.4,241.3 431,241.3 431.6,241.3 432.2,241.3 432.8,241.3 433.4,241.3 434,241.3 434.6,241.3 435.2,241.3 435.8,241.3 436.4,241.3 437,241.3" fill="none" stroke="#ff3030" stroke-width="1.1" stroke-linejoin="round"/>
<line x1="351.7" y1="241.3" x2="437.3" y2="241.3" stroke="#6a6070" stroke-width="1.2"/>
<text x="393.9" y="168.9" font-size="10" font-weight="bold" fill="#000" text-anchor="start" stroke="#000" stroke-width="0.22" textLength="35.9" lengthAdjust="spacingAndGlyphs">d6, MFI</text>
<text x="393.6" y="181.3" font-size="10" font-weight="normal" fill="#3535ff" text-anchor="start" stroke="#3535ff" stroke-width="0.3" textLength="31" lengthAdjust="spacingAndGlyphs">Con: 60</text>
<text x="396.8" y="193" font-size="10" font-weight="normal" fill="#ff2d2d" text-anchor="start" stroke="#ff2d2d" stroke-width="0.3" textLength="27.8" lengthAdjust="spacingAndGlyphs">KO: 58</text>
<text x="381" y="259.5" font-size="11" font-weight="bold" fill="#000" text-anchor="start" stroke="#000" stroke-width="0.22" textLength="26.3" lengthAdjust="spacingAndGlyphs">CD69</text>
<text transform="translate(339.5,198.95) rotate(-90)" x="0" y="0" font-size="10.6" font-weight="bold" fill="#000" text-anchor="middle" stroke="#000" stroke-width="0.22" textLength="43.1" lengthAdjust="spacingAndGlyphs">% of max</text>
<line x1="49.5" y1="293.5" x2="135" y2="293.5" stroke="#a0a0a0" stroke-width="1"/>
<line x1="135" y1="293.5" x2="135" y2="378.3" stroke="#a0a0a0" stroke-width="1"/>
<line x1="49.5" y1="293.5" x2="49.5" y2="378.3" stroke="#555" stroke-width="0.9"/>
<line x1="49.5" y1="378.3" x2="135" y2="378.3" stroke="#555" stroke-width="0.9"/>
<line x1="47.1" y1="377" x2="49.5" y2="377" stroke="#555" stroke-width="0.8"/>
<text x="45.9" y="378.6" font-size="4.6" font-weight="normal" fill="#4a4a4a" text-anchor="end" stroke="#4a4a4a" stroke-width="0.12">0</text>
<line x1="48.3" y1="373.04" x2="49.5" y2="373.04" stroke="#555" stroke-width="0.8"/>
<line x1="48.3" y1="369.07" x2="49.5" y2="369.07" stroke="#555" stroke-width="0.8"/>
<line x1="48.3" y1="365.11" x2="49.5" y2="365.11" stroke="#555" stroke-width="0.8"/>
<line x1="47.1" y1="361.14" x2="49.5" y2="361.14" stroke="#555" stroke-width="0.8"/>
<text x="45.9" y="362.74" font-size="4.6" font-weight="normal" fill="#4a4a4a" text-anchor="end" stroke="#4a4a4a" stroke-width="0.12">20</text>
<line x1="48.3" y1="357.18" x2="49.5" y2="357.18" stroke="#555" stroke-width="0.8"/>
<line x1="48.3" y1="353.21" x2="49.5" y2="353.21" stroke="#555" stroke-width="0.8"/>
<line x1="48.3" y1="349.25" x2="49.5" y2="349.25" stroke="#555" stroke-width="0.8"/>
<line x1="47.1" y1="345.28" x2="49.5" y2="345.28" stroke="#555" stroke-width="0.8"/>
<text x="45.9" y="346.88" font-size="4.6" font-weight="normal" fill="#4a4a4a" text-anchor="end" stroke="#4a4a4a" stroke-width="0.12">40</text>
<line x1="48.3" y1="341.31" x2="49.5" y2="341.31" stroke="#555" stroke-width="0.8"/>
<line x1="48.3" y1="337.35" x2="49.5" y2="337.35" stroke="#555" stroke-width="0.8"/>
<line x1="48.3" y1="333.38" x2="49.5" y2="333.38" stroke="#555" stroke-width="0.8"/>
<line x1="47.1" y1="329.42" x2="49.5" y2="329.42" stroke="#555" stroke-width="0.8"/>
<text x="45.9" y="331.02" font-size="4.6" font-weight="normal" fill="#4a4a4a" text-anchor="end" stroke="#4a4a4a" stroke-width="0.12">60</text>
<line x1="48.3" y1="325.45" x2="49.5" y2="325.45" stroke="#555" stroke-width="0.8"/>
<line x1="48.3" y1="321.49" x2="49.5" y2="321.49" stroke="#555" stroke-width="0.8"/>
<line x1="48.3" y1="317.52" x2="49.5" y2="317.52" stroke="#555" stroke-width="0.8"/>
<line x1="47.1" y1="313.56" x2="49.5" y2="313.56" stroke="#555" stroke-width="0.8"/>
<text x="45.9" y="315.16" font-size="4.6" font-weight="normal" fill="#4a4a4a" text-anchor="end" stroke="#4a4a4a" stroke-width="0.12">80</text>
<line x1="48.3" y1="309.59" x2="49.5" y2="309.59" stroke="#555" stroke-width="0.8"/>
<line x1="48.3" y1="305.63" x2="49.5" y2="305.63" stroke="#555" stroke-width="0.8"/>
<line x1="48.3" y1="301.66" x2="49.5" y2="301.66" stroke="#555" stroke-width="0.8"/>
<line x1="47.1" y1="297.7" x2="49.5" y2="297.7" stroke="#555" stroke-width="0.8"/>
<text x="45.9" y="299.3" font-size="4.6" font-weight="normal" fill="#4a4a4a" text-anchor="end" stroke="#4a4a4a" stroke-width="0.12">100</text>
<text x="51.72" y="386.1" font-size="4.4" font-weight="normal" fill="#505050" text-anchor="middle" stroke="#505050" stroke-width="0.25">10</text>
<text x="54.42" y="383.8" font-size="3" font-weight="normal" fill="#606060" text-anchor="middle" stroke="#606060" stroke-width="0.15">1</text>
<text x="67.31" y="386.1" font-size="4.4" font-weight="normal" fill="#505050" text-anchor="middle" stroke="#505050" stroke-width="0.25">10</text>
<text x="70.01" y="383.8" font-size="3" font-weight="normal" fill="#606060" text-anchor="middle" stroke="#606060" stroke-width="0.15">2</text>
<text x="84.71" y="386.1" font-size="4.4" font-weight="normal" fill="#505050" text-anchor="middle" stroke="#505050" stroke-width="0.25">10</text>
<text x="87.41" y="383.8" font-size="3" font-weight="normal" fill="#606060" text-anchor="middle" stroke="#606060" stroke-width="0.15">3</text>
<text x="102.11" y="386.1" font-size="4.4" font-weight="normal" fill="#505050" text-anchor="middle" stroke="#505050" stroke-width="0.25">10</text>
<text x="104.81" y="383.8" font-size="3" font-weight="normal" fill="#606060" text-anchor="middle" stroke="#606060" stroke-width="0.15">4</text>
<text x="119.41" y="386.1" font-size="4.4" font-weight="normal" fill="#505050" text-anchor="middle" stroke="#505050" stroke-width="0.25">10</text>
<text x="122.11" y="383.8" font-size="3" font-weight="normal" fill="#606060" text-anchor="middle" stroke="#606060" stroke-width="0.15">5</text>
<text x="130.78" y="386.1" font-size="4.4" font-weight="normal" fill="#505050" text-anchor="middle" stroke="#505050" stroke-width="0.25">10</text>
<text x="133.48" y="383.8" font-size="3" font-weight="normal" fill="#606060" text-anchor="middle" stroke="#606060" stroke-width="0.15">6</text>
<line x1="52.32" y1="378.3" x2="52.32" y2="380.3" stroke="#555" stroke-width="0.7"/>
<line x1="57.55" y1="378.3" x2="57.55" y2="379.3" stroke="#777" stroke-width="0.5"/>
<line x1="60.62" y1="378.3" x2="60.62" y2="379.3" stroke="#777" stroke-width="0.5"/>
<line x1="62.79" y1="378.3" x2="62.79" y2="379.3" stroke="#777" stroke-width="0.5"/>
<line x1="64.48" y1="378.3" x2="64.48" y2="379.3" stroke="#777" stroke-width="0.5"/>
<line x1="65.86" y1="378.3" x2="65.86" y2="379.3" stroke="#777" stroke-width="0.5"/>
<line x1="67.02" y1="378.3" x2="67.02" y2="379.3" stroke="#777" stroke-width="0.5"/>
<line x1="68.03" y1="378.3" x2="68.03" y2="379.3" stroke="#777" stroke-width="0.5"/>
<line x1="68.92" y1="378.3" x2="68.92" y2="379.3" stroke="#777" stroke-width="0.5"/>
<line x1="69.72" y1="378.3" x2="69.72" y2="380.3" stroke="#555" stroke-width="0.7"/>
<line x1="74.96" y1="378.3" x2="74.96" y2="379.3" stroke="#777" stroke-width="0.5"/>
<line x1="78.02" y1="378.3" x2="78.02" y2="379.3" stroke="#777" stroke-width="0.5"/>
<line x1="80.2" y1="378.3" x2="80.2" y2="379.3" stroke="#777" stroke-width="0.5"/>
<line x1="81.88" y1="378.3" x2="81.88" y2="379.3" stroke="#777" stroke-width="0.5"/>
<line x1="83.26" y1="378.3" x2="83.26" y2="379.3" stroke="#777" stroke-width="0.5"/>
<line x1="84.42" y1="378.3" x2="84.42" y2="379.3" stroke="#777" stroke-width="0.5"/>
<line x1="85.43" y1="378.3" x2="85.43" y2="379.3" stroke="#777" stroke-width="0.5"/>
<line x1="86.32" y1="378.3" x2="86.32" y2="379.3" stroke="#777" stroke-width="0.5"/>
<line x1="87.12" y1="378.3" x2="87.12" y2="380.3" stroke="#555" stroke-width="0.7"/>
<line x1="92.36" y1="378.3" x2="92.36" y2="379.3" stroke="#777" stroke-width="0.5"/>
<line x1="95.42" y1="378.3" x2="95.42" y2="379.3" stroke="#777" stroke-width="0.5"/>
<line x1="97.6" y1="378.3" x2="97.6" y2="379.3" stroke="#777" stroke-width="0.5"/>
<line x1="99.28" y1="378.3" x2="99.28" y2="379.3" stroke="#777" stroke-width="0.5"/>
<line x1="100.66" y1="378.3" x2="100.66" y2="379.3" stroke="#777" stroke-width="0.5"/>
<line x1="101.83" y1="378.3" x2="101.83" y2="379.3" stroke="#777" stroke-width="0.5"/>
<line x1="102.84" y1="378.3" x2="102.84" y2="379.3" stroke="#777" stroke-width="0.5"/>
<line x1="103.73" y1="378.3" x2="103.73" y2="379.3" stroke="#777" stroke-width="0.5"/>
<line x1="104.52" y1="378.3" x2="104.52" y2="380.3" stroke="#555" stroke-width="0.7"/>
<line x1="109.76" y1="378.3" x2="109.76" y2="379.3" stroke="#777" stroke-width="0.5"/>
<line x1="112.82" y1="378.3" x2="112.82" y2="379.3" stroke="#777" stroke-width="0.5"/>
<line x1="115" y1="378.3" x2="115" y2="379.3" stroke="#777" stroke-width="0.5"/>
<line x1="116.69" y1="378.3" x2="116.69" y2="379.3" stroke="#777" stroke-width="0.5"/>
<line x1="118.06" y1="378.3" x2="118.06" y2="379.3" stroke="#777" stroke-width="0.5"/>
<line x1="119.23" y1="378.3" x2="119.23" y2="379.3" stroke="#777" stroke-width="0.5"/>
<line x1="120.24" y1="378.3" x2="120.24" y2="379.3" stroke="#777" stroke-width="0.5"/>
<line x1="121.13" y1="378.3" x2="121.13" y2="379.3" stroke="#777" stroke-width="0.5"/>
<line x1="121.92" y1="378.3" x2="121.92" y2="380.3" stroke="#555" stroke-width="0.7"/>
<line x1="127.16" y1="378.3" x2="127.16" y2="379.3" stroke="#777" stroke-width="0.5"/>
<line x1="130.23" y1="378.3" x2="130.23" y2="379.3" stroke="#777" stroke-width="0.5"/>
<line x1="132.4" y1="378.3" x2="132.4" y2="379.3" stroke="#777" stroke-width="0.5"/>
<line x1="134.09" y1="378.3" x2="134.09" y2="379.3" stroke="#777" stroke-width="0.5"/>
<polyline points="51,378.3 51.59,378.3 52.19,378.3 52.78,378.3 53.37,378.3 53.96,378.3 54.56,378.3 55.15,378.3 55.74,378.3 56.34,378.3 56.93,378.3 57.52,378.3 58.11,378.3 58.71,378.3 59.3,378.29 59.89,378.29 60.49,378.29 61.08,378.28 61.67,378.27 62.26,378.26 62.86,378.24 63.45,378.22 64.04,378.19 64.64,378.14 65.23,378.08 65.82,377.99 66.41,377.88 67.01,377.73 67.6,377.53 68.19,377.26 68.79,376.92 69.38,376.48 69.97,375.91 70.56,375.2 71.16,374.3 71.75,373.18 72.34,371.8 72.94,370.13 73.53,368.12 74.12,365.73 74.71,362.92 75.31,359.67 75.9,355.95 76.49,351.78 77.09,347.17 77.68,342.17 78.27,336.87 78.86,331.4 79.46,325.94 80.05,320.71 80.64,316.01 81.24,312.25 81.83,310.1 82.42,311.85 83.01,315.95 83.61,321.23 84.2,327.15 84.79,333.3 85.39,339.36 85.98,345.13 86.57,350.46 87.16,355.25 87.76,359.47 88.35,363.11 88.94,366.2 89.54,368.77 90.13,370.88 90.72,372.59 91.31,373.95 91.91,375.02 92.5,375.85 93.09,376.49 93.69,376.98 94.28,377.34 94.87,377.61 95.46,377.81 96.06,377.95 96.65,378.06 97.24,378.13 97.84,378.19 98.43,378.22 99.02,378.25 99.61,378.26 100.21,378.28 100.8,378.28 101.39,378.29 101.99,378.29 102.58,378.3 103.17,378.3 103.76,378.3 104.36,378.3 104.95,378.3 105.54,378.3 106.14,378.3 106.73,378.3 107.32,378.3 107.91,378.3 108.51,378.3 109.1,378.3 109.69,378.3 110.29,378.3 110.88,378.3 111.47,378.3 112.06,378.3 112.66,378.3 113.25,378.3 113.84,378.3 114.44,378.3 115.03,378.3 115.62,378.3 116.21,378.3 116.81,378.3 117.4,378.3 117.99,378.3 118.59,378.3 119.18,378.3 119.77,378.3 120.36,378.3 120.96,378.3 121.55,378.3 122.14,378.3 122.74,378.3 123.33,378.3 123.92,378.3 124.51,378.3 125.11,378.3 125.7,378.3 126.29,378.3 126.89,378.3 127.48,378.3 128.07,378.3 128.66,378.3 129.26,378.3 129.85,378.3 130.44,378.3 131.04,378.3 131.63,378.3 132.22,378.3 132.81,378.3 133.41,378.3 134,378.3" fill="none" stroke="#3030ff" stroke-width="1.1" stroke-linejoin="round"/>
<polyline points="51,378.3 51.59,378.3 52.19,378.3 52.78,378.3 53.37,378.3 53.96,378.3 54.56,378.3 55.15,378.3 55.74,378.3 56.34,378.3 56.93,378.3 57.52,378.29 58.11,378.29 58.71,378.29 59.3,378.28 59.89,378.27 60.49,378.26 61.08,378.25 61.67,378.23 62.26,378.2 62.86,378.17 63.45,378.12 64.04,378.05 64.64,377.96 65.23,377.85 65.82,377.7 66.41,377.5 67.01,377.24 67.6,376.91 68.19,376.5 68.79,375.97 69.38,375.31 69.97,374.49 70.56,373.49 71.16,372.27 71.75,370.79 72.34,369.03 72.94,366.96 73.53,364.53 74.12,361.72 74.71,358.53 75.31,354.93 75.9,350.95 76.49,346.61 77.09,341.96 77.68,337.09 78.27,332.12 78.86,327.2 79.46,322.53 80.05,318.37 80.64,315.07 81.24,313.2 81.83,315.31 82.42,320.07 83.01,326.09 83.61,332.66 84.2,339.31 84.79,345.66 85.39,351.5 85.98,356.68 86.57,361.16 87.16,364.93 87.76,368.03 88.35,370.53 88.94,372.5 89.54,374.04 90.13,375.21 90.72,376.08 91.31,376.73 91.91,377.21 92.5,377.55 93.09,377.79 93.69,377.95 94.28,378.07 94.87,378.15 95.46,378.2 96.06,378.24 96.65,378.26 97.24,378.27 97.84,378.28 98.43,378.29 99.02,378.29 99.61,378.3 100.21,378.3 100.8,378.3 101.39,378.3 101.99,378.3 102.58,378.3 103.17,378.3 103.76,378.3 104.36,378.3 104.95,378.3 105.54,378.3 106.14,378.3 106.73,378.3 107.32,378.3 107.91,378.3 108.51,378.3 109.1,378.3 109.69,378.3 110.29,378.3 110.88,378.3 111.47,378.3 112.06,378.3 112.66,378.3 113.25,378.3 113.84,378.3 114.44,378.3 115.03,378.3 115.62,378.3 116.21,378.3 116.81,378.3 117.4,378.3 117.99,378.3 118.59,378.3 119.18,378.3 119.77,378.3 120.36,378.3 120.96,378.3 121.55,378.3 122.14,378.3 122.74,378.3 123.33,378.3 123.92,378.3 124.51,378.3 125.11,378.3 125.7,378.3 126.29,378.3 126.89,378.3 127.48,378.3 128.07,378.3 128.66,378.3 129.26,378.3 129.85,378.3 130.44,378.3 131.04,378.3 131.63,378.3 132.22,378.3 132.81,378.3 133.41,378.3 134,378.3" fill="none" stroke="#ff3030" stroke-width="1.1" stroke-linejoin="round"/>
<line x1="49.5" y1="378.3" x2="135" y2="378.3" stroke="#6a6070" stroke-width="1.2"/>
<text x="92.6" y="305.9" font-size="10" font-weight="bold" fill="#000" text-anchor="start" stroke="#000" stroke-width="0.22" textLength="35" lengthAdjust="spacingAndGlyphs">d6, MFI</text>
<text x="91.5" y="318.3" font-size="10" font-weight="normal" fill="#3535ff" text-anchor="start" stroke="#3535ff" stroke-width="0.3" textLength="35.6" lengthAdjust="spacingAndGlyphs">Con: 808</text>
<text x="91.5" y="330.4" font-size="10" font-weight="normal" fill="#ff2d2d" text-anchor="start" stroke="#ff2d2d" stroke-width="0.3" textLength="35.6" lengthAdjust="spacingAndGlyphs">KO:&#160;&#160;739</text>
<text x="74.7" y="397.6" font-size="10.5" font-weight="bold" fill="#000" text-anchor="start" stroke="#000" stroke-width="0.22" textLength="30.9" lengthAdjust="spacingAndGlyphs">CD11a</text>
<text transform="translate(39.5,333.25) rotate(-90)" x="0" y="0" font-size="10.6" font-weight="bold" fill="#000" text-anchor="middle" stroke="#000" stroke-width="0.22" textLength="43.1" lengthAdjust="spacingAndGlyphs">% of max</text>
<line x1="323.5" y1="293.5" x2="408.7" y2="293.5" stroke="#a0a0a0" stroke-width="1"/>
<line x1="408.7" y1="293.5" x2="408.7" y2="378.3" stroke="#a0a0a0" stroke-width="1"/>
<line x1="323.5" y1="293.5" x2="323.5" y2="378.3" stroke="#555" stroke-width="0.9"/>
<line x1="323.5" y1="378.3" x2="408.7" y2="378.3" stroke="#555" stroke-width="0.9"/>
<line x1="321.1" y1="377" x2="323.5" y2="377" stroke="#555" stroke-width="0.8"/>
<text x="319.9" y="378.6" font-size="4.6" font-weight="normal" fill="#4a4a4a" text-anchor="end" stroke="#4a4a4a" stroke-width="0.12">0</text>
<line x1="322.3" y1="373.04" x2="323.5" y2="373.04" stroke="#555" stroke-width="0.8"/>
<line x1="322.3" y1="369.07" x2="323.5" y2="369.07" stroke="#555" stroke-width="0.8"/>
<line x1="322.3" y1="365.11" x2="323.5" y2="365.11" stroke="#555" stroke-width="0.8"/>
<line x1="321.1" y1="361.14" x2="323.5" y2="361.14" stroke="#555" stroke-width="0.8"/>
<text x="319.9" y="362.74" font-size="4.6" font-weight="normal" fill="#4a4a4a" text-anchor="end" stroke="#4a4a4a" stroke-width="0.12">20</text>
<line x1="322.3" y1="357.18" x2="323.5" y2="357.18" stroke="#555" stroke-width="0.8"/>
<line x1="322.3" y1="353.21" x2="323.5" y2="353.21" stroke="#555" stroke-width="0.8"/>
<line x1="322.3" y1="349.25" x2="323.5" y2="349.25" stroke="#555" stroke-width="0.8"/>
<line x1="321.1" y1="345.28" x2="323.5" y2="345.28" stroke="#555" stroke-width="0.8"/>
<text x="319.9" y="346.88" font-size="4.6" font-weight="normal" fill="#4a4a4a" text-anchor="end" stroke="#4a4a4a" stroke-width="0.12">40</text>
<line x1="322.3" y1="341.31" x2="323.5" y2="341.31" stroke="#555" stroke-width="0.8"/>
<line x1="322.3" y1="337.35" x2="323.5" y2="337.35" stroke="#555" stroke-width="0.8"/>
<line x1="322.3" y1="333.38" x2="323.5" y2="333.38" stroke="#555" stroke-width="0.8"/>
<line x1="321.1" y1="329.42" x2="323.5" y2="329.42" stroke="#555" stroke-width="0.8"/>
<text x="319.9" y="331.02" font-size="4.6" font-weight="normal" fill="#4a4a4a" text-anchor="end" stroke="#4a4a4a" stroke-width="0.12">60</text>
<line x1="322.3" y1="325.45" x2="323.5" y2="325.45" stroke="#555" stroke-width="0.8"/>
<line x1="322.3" y1="321.49" x2="323.5" y2="321.49" stroke="#555" stroke-width="0.8"/>
<line x1="322.3" y1="317.52" x2="323.5" y2="317.52" stroke="#555" stroke-width="0.8"/>
<line x1="321.1" y1="313.56" x2="323.5" y2="313.56" stroke="#555" stroke-width="0.8"/>
<text x="319.9" y="315.16" font-size="4.6" font-weight="normal" fill="#4a4a4a" text-anchor="end" stroke="#4a4a4a" stroke-width="0.12">80</text>
<line x1="322.3" y1="309.59" x2="323.5" y2="309.59" stroke="#555" stroke-width="0.8"/>
<line x1="322.3" y1="305.63" x2="323.5" y2="305.63" stroke="#555" stroke-width="0.8"/>
<line x1="322.3" y1="301.66" x2="323.5" y2="301.66" stroke="#555" stroke-width="0.8"/>
<line x1="321.1" y1="297.7" x2="323.5" y2="297.7" stroke="#555" stroke-width="0.8"/>
<text x="319.9" y="299.3" font-size="4.6" font-weight="normal" fill="#4a4a4a" text-anchor="end" stroke="#4a4a4a" stroke-width="0.12">100</text>
<text x="325.71" y="386.1" font-size="4.4" font-weight="normal" fill="#505050" text-anchor="middle" stroke="#505050" stroke-width="0.25">10</text>
<text x="328.41" y="383.8" font-size="3" font-weight="normal" fill="#606060" text-anchor="middle" stroke="#606060" stroke-width="0.15">1</text>
<text x="341.24" y="386.1" font-size="4.4" font-weight="normal" fill="#505050" text-anchor="middle" stroke="#505050" stroke-width="0.25">10</text>
<text x="343.94" y="383.8" font-size="3" font-weight="normal" fill="#606060" text-anchor="middle" stroke="#606060" stroke-width="0.15">2</text>
<text x="358.58" y="386.1" font-size="4.4" font-weight="normal" fill="#505050" text-anchor="middle" stroke="#505050" stroke-width="0.25">10</text>
<text x="361.28" y="383.8" font-size="3" font-weight="normal" fill="#606060" text-anchor="middle" stroke="#606060" stroke-width="0.15">3</text>
<text x="375.92" y="386.1" font-size="4.4" font-weight="normal" fill="#505050" text-anchor="middle" stroke="#505050" stroke-width="0.25">10</text>
<text x="378.62" y="383.8" font-size="3" font-weight="normal" fill="#606060" text-anchor="middle" stroke="#606060" stroke-width="0.15">4</text>
<text x="393.16" y="386.1" font-size="4.4" font-weight="normal" fill="#505050" text-anchor="middle" stroke="#505050" stroke-width="0.25">10</text>
<text x="395.86" y="383.8" font-size="3" font-weight="normal" fill="#606060" text-anchor="middle" stroke="#606060" stroke-width="0.15">5</text>
<text x="404.49" y="386.1" font-size="4.4" font-weight="normal" fill="#505050" text-anchor="middle" stroke="#505050" stroke-width="0.25">10</text>
<text x="407.19" y="383.8" font-size="3" font-weight="normal" fill="#606060" text-anchor="middle" stroke="#606060" stroke-width="0.15">6</text>
<line x1="326.31" y1="378.3" x2="326.31" y2="380.3" stroke="#555" stroke-width="0.7"/>
<line x1="331.53" y1="378.3" x2="331.53" y2="379.3" stroke="#777" stroke-width="0.5"/>
<line x1="334.58" y1="378.3" x2="334.58" y2="379.3" stroke="#777" stroke-width="0.5"/>
<line x1="336.75" y1="378.3" x2="336.75" y2="379.3" stroke="#777" stroke-width="0.5"/>
<line x1="338.43" y1="378.3" x2="338.43" y2="379.3" stroke="#777" stroke-width="0.5"/>
<line x1="339.8" y1="378.3" x2="339.8" y2="379.3" stroke="#777" stroke-width="0.5"/>
<line x1="340.96" y1="378.3" x2="340.96" y2="379.3" stroke="#777" stroke-width="0.5"/>
<line x1="341.97" y1="378.3" x2="341.97" y2="379.3" stroke="#777" stroke-width="0.5"/>
<line x1="342.85" y1="378.3" x2="342.85" y2="379.3" stroke="#777" stroke-width="0.5"/>
<line x1="343.65" y1="378.3" x2="343.65" y2="380.3" stroke="#555" stroke-width="0.7"/>
<line x1="348.87" y1="378.3" x2="348.87" y2="379.3" stroke="#777" stroke-width="0.5"/>
<line x1="351.92" y1="378.3" x2="351.92" y2="379.3" stroke="#777" stroke-width="0.5"/>
<line x1="354.09" y1="378.3" x2="354.09" y2="379.3" stroke="#777" stroke-width="0.5"/>
<line x1="355.77" y1="378.3" x2="355.77" y2="379.3" stroke="#777" stroke-width="0.5"/>
<line x1="357.14" y1="378.3" x2="357.14" y2="379.3" stroke="#777" stroke-width="0.5"/>
<line x1="358.3" y1="378.3" x2="358.3" y2="379.3" stroke="#777" stroke-width="0.5"/>
<line x1="359.31" y1="378.3" x2="359.31" y2="379.3" stroke="#777" stroke-width="0.5"/>
<line x1="360.19" y1="378.3" x2="360.19" y2="379.3" stroke="#777" stroke-width="0.5"/>
<line x1="360.99" y1="378.3" x2="360.99" y2="380.3" stroke="#555" stroke-width="0.7"/>
<line x1="366.21" y1="378.3" x2="366.21" y2="379.3" stroke="#777" stroke-width="0.5"/>
<line x1="369.26" y1="378.3" x2="369.26" y2="379.3" stroke="#777" stroke-width="0.5"/>
<line x1="371.43" y1="378.3" x2="371.43" y2="379.3" stroke="#777" stroke-width="0.5"/>
<line x1="373.11" y1="378.3" x2="373.11" y2="379.3" stroke="#777" stroke-width="0.5"/>
<line x1="374.48" y1="378.3" x2="374.48" y2="379.3" stroke="#777" stroke-width="0.5"/>
<line x1="375.64" y1="378.3" x2="375.64" y2="379.3" stroke="#777" stroke-width="0.5"/>
<line x1="376.65" y1="378.3" x2="376.65" y2="379.3" stroke="#777" stroke-width="0.5"/>
<line x1="377.54" y1="378.3" x2="377.54" y2="379.3" stroke="#777" stroke-width="0.5"/>
<line x1="378.33" y1="378.3" x2="378.33" y2="380.3" stroke="#555" stroke-width="0.7"/>
<line x1="383.55" y1="378.3" x2="383.55" y2="379.3" stroke="#777" stroke-width="0.5"/>
<line x1="386.6" y1="378.3" x2="386.6" y2="379.3" stroke="#777" stroke-width="0.5"/>
<line x1="388.77" y1="378.3" x2="388.77" y2="379.3" stroke="#777" stroke-width="0.5"/>
<line x1="390.45" y1="378.3" x2="390.45" y2="379.3" stroke="#777" stroke-width="0.5"/>
<line x1="391.82" y1="378.3" x2="391.82" y2="379.3" stroke="#777" stroke-width="0.5"/>
<line x1="392.98" y1="378.3" x2="392.98" y2="379.3" stroke="#777" stroke-width="0.5"/>
<line x1="393.99" y1="378.3" x2="393.99" y2="379.3" stroke="#777" stroke-width="0.5"/>
<line x1="394.88" y1="378.3" x2="394.88" y2="379.3" stroke="#777" stroke-width="0.5"/>
<line x1="395.67" y1="378.3" x2="395.67" y2="380.3" stroke="#555" stroke-width="0.7"/>
<line x1="400.89" y1="378.3" x2="400.89" y2="379.3" stroke="#777" stroke-width="0.5"/>
<line x1="403.94" y1="378.3" x2="403.94" y2="379.3" stroke="#777" stroke-width="0.5"/>
<line x1="406.11" y1="378.3" x2="406.11" y2="379.3" stroke="#777" stroke-width="0.5"/>
<line x1="407.79" y1="378.3" x2="407.79" y2="379.3" stroke="#777" stroke-width="0.5"/>
<polyline points="325,378.3 325.59,378.3 326.19,378.3 326.78,378.3 327.37,378.3 327.96,378.3 328.56,378.3 329.15,378.3 329.74,378.3 330.34,378.3 330.93,378.3 331.52,378.3 332.11,378.3 332.71,378.3 333.3,378.3 333.89,378.3 334.49,378.3 335.08,378.3 335.67,378.3 336.26,378.3 336.86,378.3 337.45,378.3 338.04,378.3 338.64,378.3 339.23,378.3 339.82,378.3 340.41,378.3 341.01,378.3 341.6,378.3 342.19,378.3 342.79,378.3 343.38,378.29 343.97,378.29 344.56,378.28 345.16,378.26 345.75,378.23 346.34,378.18 346.94,378.1 347.53,377.97 348.12,377.78 348.71,377.48 349.31,377.04 349.9,376.4 350.49,375.51 351.09,374.3 351.68,372.7 352.27,370.64 352.86,368.07 353.46,364.96 354.05,361.31 354.64,357.16 355.24,352.61 355.83,347.77 356.42,342.8 357.01,337.87 357.61,333.22 358.2,329.41 358.79,327.61 359.39,326.93 359.98,326.8 360.57,327.04 361.16,327.94 361.76,330.19 362.35,334.33 362.94,338.91 363.54,343.42 364.13,347.52 364.72,351.09 365.31,354.35 365.91,357.77 366.5,361.6 367.09,365.64 367.69,369.33 368.28,372.25 368.87,374.3 369.46,375.67 370.06,376.56 370.65,377.16 371.24,377.57 371.84,377.84 372.43,378.01 373.02,378.13 373.61,378.2 374.21,378.23 374.8,378.22 375.39,378.11 375.99,377.81 376.58,377.34 377.17,376.89 377.76,376.79 378.36,377.12 378.95,377.62 379.54,378.02 380.14,378.21 380.73,378.28 381.32,378.3 381.91,378.3 382.51,378.3 383.1,378.3 383.69,378.3 384.29,378.3 384.88,378.3 385.47,378.3 386.06,378.3 386.66,378.3 387.25,378.3 387.84,378.3 388.44,378.3 389.03,378.3 389.62,378.3 390.21,378.3 390.81,378.3 391.4,378.3 391.99,378.3 392.59,378.3 393.18,378.3 393.77,378.3 394.36,378.3 394.96,378.3 395.55,378.3 396.14,378.3 396.74,378.3 397.33,378.3 397.92,378.3 398.51,378.3 399.11,378.3 399.7,378.3 400.29,378.3 400.89,378.3 401.48,378.3 402.07,378.3 402.66,378.3 403.26,378.3 403.85,378.3 404.44,378.3 405.04,378.3 405.63,378.3 406.22,378.3 406.81,378.3 407.41,378.3 408,378.3" fill="none" stroke="#ff3030" stroke-width="1.1" stroke-linejoin="round"/>
<polyline points="325,378.3 325.59,378.3 326.19,378.3 326.78,378.3 327.37,378.3 327.96,378.3 328.56,378.3 329.15,378.3 329.74,378.3 330.34,378.3 330.93,378.3 331.52,378.3 332.11,378.3 332.71,378.3 333.3,378.3 333.89,378.3 334.49,378.3 335.08,378.3 335.67,378.3 336.26,378.3 336.86,378.3 337.45,378.3 338.04,378.3 338.64,378.3 339.23,378.3 339.82,378.3 340.41,378.3 341.01,378.29 341.6,378.29 342.19,378.28 342.79,378.27 343.38,378.26 343.97,378.24 344.56,378.21 345.16,378.17 345.75,378.12 346.34,378.04 346.94,377.93 347.53,377.79 348.12,377.59 348.71,377.32 349.31,376.96 349.9,376.48 350.49,375.87 351.09,375.08 351.68,374.09 352.27,372.84 352.86,371.3 353.46,369.43 354.05,367.19 354.64,364.56 355.24,361.51 355.83,358.07 356.42,354.25 357.01,350.14 357.61,345.81 358.2,341.34 358.79,336.61 359.39,331.11 359.98,323.96 360.57,315.65 361.16,309.6 361.76,310.78 362.35,321.89 362.94,334.93 363.54,345.04 364.13,351.33 364.72,354.93 365.31,357.34 365.91,359.79 366.5,362.9 367.09,366.49 367.69,369.9 368.28,372.61 368.87,374.46 369.46,375.66 370.06,376.45 370.65,376.98 371.24,377.37 371.84,377.64 372.43,377.84 373.02,377.98 373.61,378.08 374.21,378.14 374.8,378.14 375.39,377.99 375.99,377.57 376.58,376.9 377.17,376.27 377.76,376.13 378.36,376.6 378.95,377.32 379.54,377.89 380.14,378.17 380.73,378.27 381.32,378.29 381.91,378.3 382.51,378.3 383.1,378.3 383.69,378.3 384.29,378.3 384.88,378.3 385.47,378.3 386.06,378.3 386.66,378.3 387.25,378.3 387.84,378.3 388.44,378.3 389.03,378.3 389.62,378.3 390.21,378.3 390.81,378.3 391.4,378.3 391.99,378.3 392.59,378.3 393.18,378.3 393.77,378.3 394.36,378.3 394.96,378.3 395.55,378.3 396.14,378.3 396.74,378.3 397.33,378.3 397.92,378.3 398.51,378.3 399.11,378.3 399.7,378.3 400.29,378.3 400.89,378.3 401.48,378.3 402.07,378.3 402.66,378.3 403.26,378.3 403.85,378.3 404.44,378.3 405.04,378.3 405.63,378.3 406.22,378.3 406.81,378.3 407.41,378.3 408,378.3" fill="none" stroke="#3030ff" stroke-width="1.1" stroke-linejoin="round"/>
<line x1="323.5" y1="378.3" x2="408.7" y2="378.3" stroke="#6a6070" stroke-width="1.2"/>
<text x="368.8" y="303.5" font-size="10" font-weight="bold" fill="#000" text-anchor="start" stroke="#000" stroke-width="0.22" textLength="35.5" lengthAdjust="spacingAndGlyphs">d6, MFI</text>
<text x="365.9" y="315.9" font-size="10" font-weight="normal" fill="#3535ff" text-anchor="start" stroke="#3535ff" stroke-width="0.3" textLength="39.6" lengthAdjust="spacingAndGlyphs">Con: 1698</text>
<text x="365.9" y="327.5" font-size="10" font-weight="normal" fill="#ff2d2d" text-anchor="start" stroke="#ff2d2d" stroke-width="0.3" textLength="39.6" lengthAdjust="spacingAndGlyphs">KO:&#160;&#160;1548</text>
<text x="352.8" y="397.6" font-size="11" font-weight="bold" fill="#000" text-anchor="start" stroke="#000" stroke-width="0.22" textLength="24.2" lengthAdjust="spacingAndGlyphs">CD54</text>
<text transform="translate(313.3,334.75) rotate(-90)" x="0" y="0" font-size="10.6" font-weight="bold" fill="#000" text-anchor="middle" stroke="#000" stroke-width="0.22" textLength="43.1" lengthAdjust="spacingAndGlyphs">% of max</text>
<line x1="248" y1="28.8" x2="248" y2="105.15" stroke="#111" stroke-width="1.5"/>
<line x1="247.25" y1="104.4" x2="313.6" y2="104.4" stroke="#111" stroke-width="1.5"/>
<line x1="244" y1="29.4" x2="248" y2="29.4" stroke="#111" stroke-width="1.3"/>
<text x="243" y="32.77" font-size="9.9" font-weight="normal" fill="#303030" text-anchor="end" stroke="#303030" stroke-width="0.1">600</text>
<line x1="244" y1="41.9" x2="248" y2="41.9" stroke="#111" stroke-width="1.3"/>
<text x="243" y="45.27" font-size="9.9" font-weight="normal" fill="#303030" text-anchor="end" stroke="#303030" stroke-width="0.1">500</text>
<line x1="244" y1="54.4" x2="248" y2="54.4" stroke="#111" stroke-width="1.3"/>
<text x="243" y="57.77" font-size="9.9" font-weight="normal" fill="#303030" text-anchor="end" stroke="#303030" stroke-width="0.1">400</text>
<line x1="244" y1="66.9" x2="248" y2="66.9" stroke="#111" stroke-width="1.3"/>
<text x="243" y="70.27" font-size="9.9" font-weight="normal" fill="#303030" text-anchor="end" stroke="#303030" stroke-width="0.1">300</text>
<line x1="244" y1="79.4" x2="248" y2="79.4" stroke="#111" stroke-width="1.3"/>
<text x="243" y="82.77" font-size="9.9" font-weight="normal" fill="#303030" text-anchor="end" stroke="#303030" stroke-width="0.1">200</text>
<line x1="244" y1="91.9" x2="248" y2="91.9" stroke="#111" stroke-width="1.3"/>
<text x="243" y="95.27" font-size="9.9" font-weight="normal" fill="#303030" text-anchor="end" stroke="#303030" stroke-width="0.1">100</text>
<line x1="244" y1="104.4" x2="248" y2="104.4" stroke="#111" stroke-width="1.3"/>
<text x="243" y="107.77" font-size="9.9" font-weight="normal" fill="#303030" text-anchor="end" stroke="#303030" stroke-width="0.1">0</text>
<line x1="256.3" y1="104.4" x2="256.3" y2="108.4" stroke="#111" stroke-width="1.3"/>
<line x1="268.4" y1="104.4" x2="268.4" y2="108.4" stroke="#111" stroke-width="1.3"/>
<line x1="280.5" y1="104.4" x2="280.5" y2="108.4" stroke="#111" stroke-width="1.3"/>
<line x1="292.5" y1="104.4" x2="292.5" y2="108.4" stroke="#111" stroke-width="1.3"/>
<line x1="304.6" y1="104.4" x2="304.6" y2="108.4" stroke="#111" stroke-width="1.3"/>
<path d="M252.1,104.4 V87.7 H260.5 V104.4" fill="#fff" stroke="#0000ff" stroke-width="2" stroke-linejoin="miter"/>
<path d="M264.2,104.4 V101.5 H272.6 V104.4" fill="#fff" stroke="#ff0000" stroke-width="2" stroke-linejoin="miter"/>
<path d="M288.1,104.4 V57.9 H296.9 V104.4" fill="#fff" stroke="#0000ff" stroke-width="2" stroke-linejoin="miter"/>
<path d="M300.1,104.4 V89.9 H309 V104.4" fill="#fff" stroke="#ff0000" stroke-width="2" stroke-linejoin="miter"/>
<line x1="292.5" y1="47.5" x2="292.5" y2="65.6" stroke="#0000ff" stroke-width="1.4"/>
<line x1="290.2" y1="47.5" x2="294.8" y2="47.5" stroke="#0000ff" stroke-width="1.4"/>
<line x1="290.2" y1="65.6" x2="294.8" y2="65.6" stroke="#0000ff" stroke-width="1.4"/>
<line x1="304.6" y1="87.7" x2="304.6" y2="93" stroke="#ff0000" stroke-width="1.4"/>
<line x1="302.4" y1="87.7" x2="306.8" y2="87.7" stroke="#ff0000" stroke-width="1.4"/>
<line x1="302.4" y1="93" x2="306.8" y2="93" stroke="#ff0000" stroke-width="1.4"/>
<circle cx="252.5" cy="85.6" r="2" fill="#0000ff"/>
<circle cx="255.8" cy="85.3" r="2" fill="#0000ff"/>
<circle cx="258.6" cy="86.3" r="2" fill="#0000ff"/>
<circle cx="260.3" cy="88.1" r="2" fill="#0000ff"/>
<circle cx="253.3" cy="92.2" r="2" fill="#0000ff"/>
<circle cx="292.3" cy="44.9" r="2" fill="#0000ff"/>
<circle cx="288.5" cy="50" r="2" fill="#0000ff"/>
<circle cx="296.2" cy="50" r="2" fill="#0000ff"/>
<circle cx="292.3" cy="53.9" r="2" fill="#0000ff"/>
<circle cx="292.3" cy="88.9" r="2" fill="#0000ff"/>
<polygon points="265.5,99.8 263.5,103.2 267.5,103.2" fill="#ff0000"/>
<polygon points="268.5,99.1 266.5,102.5 270.5,102.5" fill="#ff0000"/>
<polygon points="271.5,99.8 269.5,103.2 273.5,103.2" fill="#ff0000"/>
<polygon points="300.8,78.42 298.7,81.98 302.9,81.98" fill="#ff0000"/>
<polygon points="304.8,81.92 302.7,85.48 306.9,85.48" fill="#ff0000"/>
<polygon points="301.8,93.22 299.7,96.78 303.9,96.78" fill="#ff0000"/>
<polygon points="307.5,93.22 305.4,96.78 309.6,96.78" fill="#ff0000"/>
<polyline points="255,81 255,75.5 269.6,75.5 269.6,99.6" fill="none" stroke="#8a8a8a" stroke-width="1" stroke-linejoin="round"/>
<polyline points="292.1,40.4 292.1,35.5 304.8,35.5 304.8,72.9" fill="none" stroke="#8a8a8a" stroke-width="1" stroke-linejoin="round"/>
<line x1="255.3" y1="66.3" x2="255.3" y2="69.5" stroke="#151515" stroke-width="1.0" stroke-linecap="round"/>
<line x1="253.91" y1="67.1" x2="256.69" y2="68.7" stroke="#151515" stroke-width="1.0" stroke-linecap="round"/>
<line x1="256.69" y1="67.1" x2="253.91" y2="68.7" stroke="#151515" stroke-width="1.0" stroke-linecap="round"/>
<circle cx="255.3" cy="67.9" r="1.2" fill="#151515"/>
<line x1="260.6" y1="66.3" x2="260.6" y2="69.5" stroke="#151515" stroke-width="1.0" stroke-linecap="round"/>
<line x1="259.21" y1="67.1" x2="261.99" y2="68.7" stroke="#151515" stroke-width="1.0" stroke-linecap="round"/>
<line x1="261.99" y1="67.1" x2="259.21" y2="68.7" stroke="#151515" stroke-width="1.0" stroke-linecap="round"/>
<circle cx="260.6" cy="67.9" r="1.2" fill="#151515"/>
<line x1="266" y1="66.3" x2="266" y2="69.5" stroke="#151515" stroke-width="1.0" stroke-linecap="round"/>
<line x1="264.61" y1="67.1" x2="267.39" y2="68.7" stroke="#151515" stroke-width="1.0" stroke-linecap="round"/>
<line x1="267.39" y1="67.1" x2="264.61" y2="68.7" stroke="#151515" stroke-width="1.0" stroke-linecap="round"/>
<circle cx="266" cy="67.9" r="1.2" fill="#151515"/>
<line x1="295.3" y1="26.6" x2="295.3" y2="29.8" stroke="#151515" stroke-width="1.0" stroke-linecap="round"/>
<line x1="293.91" y1="27.4" x2="296.69" y2="29" stroke="#151515" stroke-width="1.0" stroke-linecap="round"/>
<line x1="296.69" y1="27.4" x2="293.91" y2="29" stroke="#151515" stroke-width="1.0" stroke-linecap="round"/>
<circle cx="295.3" cy="28.2" r="1.2" fill="#151515"/>
<line x1="300.4" y1="26.6" x2="300.4" y2="29.8" stroke="#151515" stroke-width="1.0" stroke-linecap="round"/>
<line x1="299.01" y1="27.4" x2="301.79" y2="29" stroke="#151515" stroke-width="1.0" stroke-linecap="round"/>
<line x1="301.79" y1="27.4" x2="299.01" y2="29" stroke="#151515" stroke-width="1.0" stroke-linecap="round"/>
<circle cx="300.4" cy="28.2" r="1.2" fill="#151515"/>
<circle cx="253.7" cy="27.7" r="2.2" fill="#0000ff"/>
<polygon points="253.7,37.45 251.4,41.35 256,41.35" fill="#ff0000"/>
<text x="268" y="30.2" font-size="11.5" font-weight="normal" fill="#1a1a1a" text-anchor="start" stroke="#1a1a1a" stroke-width="0.12" textLength="18" lengthAdjust="spacingAndGlyphs">Con</text>
<text x="268" y="42.4" font-size="11.5" font-weight="normal" fill="#1a1a1a" text-anchor="start" stroke="#1a1a1a" stroke-width="0.12" textLength="15" lengthAdjust="spacingAndGlyphs">KO</text>
<text x="250.8" y="119.1" font-size="10.5" font-weight="bold" fill="#000" text-anchor="start" stroke="#000" stroke-width="0.22" textLength="22.8" lengthAdjust="spacingAndGlyphs">day 6</text>
<text x="287.6" y="119.1" font-size="10.5" font-weight="bold" fill="#000" text-anchor="start" stroke="#000" stroke-width="0.22" textLength="22.8" lengthAdjust="spacingAndGlyphs">day 9</text>
<text transform="translate(223.2,66.8) rotate(-90)" x="0" y="0" font-size="10.7" font-weight="bold" fill="#000" text-anchor="middle" stroke="#000" stroke-width="0.22" textLength="80.6" lengthAdjust="spacingAndGlyphs">Glyco-CD43 MFI</text>
<line x1="480.9" y1="28.6" x2="480.9" y2="104.65" stroke="#111" stroke-width="1.5"/>
<line x1="480.15" y1="103.9" x2="545.2" y2="103.9" stroke="#111" stroke-width="1.5"/>
<line x1="476.9" y1="29.2" x2="480.9" y2="29.2" stroke="#111" stroke-width="1.3"/>
<text x="475.9" y="32.19" font-size="8.8" font-weight="normal" fill="#303030" text-anchor="end" stroke="#303030" stroke-width="0.1">25,000</text>
<line x1="476.9" y1="44.1" x2="480.9" y2="44.1" stroke="#111" stroke-width="1.3"/>
<text x="475.9" y="47.09" font-size="8.8" font-weight="normal" fill="#303030" text-anchor="end" stroke="#303030" stroke-width="0.1">20,000</text>
<line x1="476.9" y1="59.1" x2="480.9" y2="59.1" stroke="#111" stroke-width="1.3"/>
<text x="475.9" y="62.09" font-size="8.8" font-weight="normal" fill="#303030" text-anchor="end" stroke="#303030" stroke-width="0.1">15,000</text>
<line x1="476.9" y1="74" x2="480.9" y2="74" stroke="#111" stroke-width="1.3"/>
<text x="475.9" y="76.99" font-size="8.8" font-weight="normal" fill="#303030" text-anchor="end" stroke="#303030" stroke-width="0.1">10,000</text>
<line x1="476.9" y1="89" x2="480.9" y2="89" stroke="#111" stroke-width="1.3"/>
<text x="475.9" y="91.99" font-size="8.8" font-weight="normal" fill="#303030" text-anchor="end" stroke="#303030" stroke-width="0.1">5,000</text>
<line x1="476.9" y1="103.9" x2="480.9" y2="103.9" stroke="#111" stroke-width="1.3"/>
<text x="475.9" y="106.89" font-size="8.8" font-weight="normal" fill="#303030" text-anchor="end" stroke="#303030" stroke-width="0.1">0</text>
<line x1="478.7" y1="36.65" x2="480.9" y2="36.65" stroke="#111" stroke-width="1.2"/>
<line x1="478.7" y1="51.6" x2="480.9" y2="51.6" stroke="#111" stroke-width="1.2"/>
<line x1="478.7" y1="66.55" x2="480.9" y2="66.55" stroke="#111" stroke-width="1.2"/>
<line x1="478.7" y1="81.5" x2="480.9" y2="81.5" stroke="#111" stroke-width="1.2"/>
<line x1="478.7" y1="96.45" x2="480.9" y2="96.45" stroke="#111" stroke-width="1.2"/>
<line x1="489.8" y1="103.9" x2="489.8" y2="107.9" stroke="#111" stroke-width="1.3"/>
<line x1="501.9" y1="103.9" x2="501.9" y2="107.9" stroke="#111" stroke-width="1.3"/>
<line x1="514.4" y1="103.9" x2="514.4" y2="107.9" stroke="#111" stroke-width="1.3"/>
<line x1="526.2" y1="103.9" x2="526.2" y2="107.9" stroke="#111" stroke-width="1.3"/>
<line x1="538.3" y1="103.9" x2="538.3" y2="107.9" stroke="#111" stroke-width="1.3"/>
<path d="M485.1,103.9 V69.1 H493.8 V103.9" fill="#fff" stroke="#0000ff" stroke-width="2" stroke-linejoin="miter"/>
<path d="M497.5,103.9 V72.1 H506.5 V103.9" fill="#fff" stroke="#ff0000" stroke-width="2" stroke-linejoin="miter"/>
<path d="M521.5,103.9 V63.4 H530.4 V103.9" fill="#fff" stroke="#0000ff" stroke-width="2" stroke-linejoin="miter"/>
<path d="M534.1,103.9 V67.7 H542.9 V103.9" fill="#fff" stroke="#ff0000" stroke-width="2" stroke-linejoin="miter"/>
<line x1="489.5" y1="62.5" x2="489.5" y2="75.5" stroke="#0000ff" stroke-width="1.4"/>
<line x1="487.2" y1="62.5" x2="491.8" y2="62.5" stroke="#0000ff" stroke-width="1.4"/>
<line x1="487.2" y1="75.5" x2="491.8" y2="75.5" stroke="#0000ff" stroke-width="1.4"/>
<line x1="502" y1="67.7" x2="502" y2="76.4" stroke="#ff0000" stroke-width="1.4"/>
<line x1="499.7" y1="67.7" x2="504.3" y2="67.7" stroke="#ff0000" stroke-width="1.4"/>
<line x1="499.7" y1="76.4" x2="504.3" y2="76.4" stroke="#ff0000" stroke-width="1.4"/>
<circle cx="489.6" cy="59.3" r="2" fill="#0000ff"/>
<circle cx="489.6" cy="79" r="2" fill="#0000ff"/>
<polygon points="502.1,62.43 499.9,66.17 504.3,66.17" fill="#ff0000"/>
<polygon points="502.1,79.73 499.9,83.47 504.3,83.47" fill="#ff0000"/>
<circle cx="523.5" cy="63.1" r="1.9" fill="#0000ff"/>
<circle cx="526" cy="62.6" r="1.9" fill="#0000ff"/>
<circle cx="528.5" cy="63.1" r="1.9" fill="#0000ff"/>
<polygon points="536.2,65.98 534.3,69.21 538.1,69.21" fill="#ff0000"/>
<polygon points="538.5,65.59 536.6,68.81 540.4,68.81" fill="#ff0000"/>
<polygon points="540.8,65.98 538.9,69.21 542.7,69.21" fill="#ff0000"/>
<circle cx="496.2" cy="27" r="2.2" fill="#0000ff"/>
<polygon points="496.3,37.65 494,41.55 498.6,41.55" fill="#ff0000"/>
<text x="510.6" y="30.2" font-size="11.5" font-weight="normal" fill="#1a1a1a" text-anchor="start" stroke="#1a1a1a" stroke-width="0.12" textLength="18.2" lengthAdjust="spacingAndGlyphs">Con</text>
<text x="510.6" y="42.5" font-size="11.5" font-weight="normal" fill="#1a1a1a" text-anchor="start" stroke="#1a1a1a" stroke-width="0.12" textLength="14.9" lengthAdjust="spacingAndGlyphs">KO</text>
<text x="497.4" y="60.5" font-size="11.5" font-weight="normal" fill="#1a1a1a" text-anchor="start" stroke="#1a1a1a" stroke-width="0.12" textLength="9.2" lengthAdjust="spacingAndGlyphs">ns</text>
<text x="534.3" y="64.6" font-size="11.5" font-weight="normal" fill="#1a1a1a" text-anchor="start" stroke="#1a1a1a" stroke-width="0.12" textLength="9.9" lengthAdjust="spacingAndGlyphs">ns</text>
<text x="483.9" y="119.6" font-size="10.5" font-weight="bold" fill="#000" text-anchor="start" stroke="#000" stroke-width="0.22" textLength="24.1" lengthAdjust="spacingAndGlyphs">day 6</text>
<text x="520.5" y="119.6" font-size="10.5" font-weight="bold" fill="#000" text-anchor="start" stroke="#000" stroke-width="0.22" textLength="24.1" lengthAdjust="spacingAndGlyphs">day 9</text>
<text transform="translate(446.6,67.55) rotate(-90)" x="0" y="0" font-size="10.4" font-weight="bold" fill="#000" text-anchor="middle" stroke="#000" stroke-width="0.22" textLength="87.7" lengthAdjust="spacingAndGlyphs">CD43-protein MFI</text>
<line x1="248.4" y1="166.5" x2="248.4" y2="242.85" stroke="#111" stroke-width="1.5"/>
<line x1="247.65" y1="242.1" x2="314" y2="242.1" stroke="#111" stroke-width="1.5"/>
<line x1="244.4" y1="167.1" x2="248.4" y2="167.1" stroke="#111" stroke-width="1.3"/>
<text x="243.4" y="170.02" font-size="8.6" font-weight="normal" fill="#303030" text-anchor="end" stroke="#303030" stroke-width="0.1">8000</text>
<line x1="244.4" y1="185.85" x2="248.4" y2="185.85" stroke="#111" stroke-width="1.3"/>
<text x="243.4" y="188.77" font-size="8.6" font-weight="normal" fill="#303030" text-anchor="end" stroke="#303030" stroke-width="0.1">6000</text>
<line x1="244.4" y1="204.6" x2="248.4" y2="204.6" stroke="#111" stroke-width="1.3"/>
<text x="243.4" y="207.52" font-size="8.6" font-weight="normal" fill="#303030" text-anchor="end" stroke="#303030" stroke-width="0.1">4000</text>
<line x1="244.4" y1="223.35" x2="248.4" y2="223.35" stroke="#111" stroke-width="1.3"/>
<text x="243.4" y="226.27" font-size="8.6" font-weight="normal" fill="#303030" text-anchor="end" stroke="#303030" stroke-width="0.1">2000</text>
<line x1="244.4" y1="242.1" x2="248.4" y2="242.1" stroke="#111" stroke-width="1.3"/>
<text x="243.4" y="245.02" font-size="8.6" font-weight="normal" fill="#303030" text-anchor="end" stroke="#303030" stroke-width="0.1">0</text>
<line x1="246.2" y1="176.47" x2="248.4" y2="176.47" stroke="#111" stroke-width="1.2"/>
<line x1="246.2" y1="195.22" x2="248.4" y2="195.22" stroke="#111" stroke-width="1.2"/>
<line x1="246.2" y1="213.97" x2="248.4" y2="213.97" stroke="#111" stroke-width="1.2"/>
<line x1="246.2" y1="232.72" x2="248.4" y2="232.72" stroke="#111" stroke-width="1.2"/>
<line x1="256.7" y1="242.1" x2="256.7" y2="246.1" stroke="#111" stroke-width="1.3"/>
<line x1="268.5" y1="242.1" x2="268.5" y2="246.1" stroke="#111" stroke-width="1.3"/>
<line x1="281.5" y1="242.1" x2="281.5" y2="246.1" stroke="#111" stroke-width="1.3"/>
<line x1="292.8" y1="242.1" x2="292.8" y2="246.1" stroke="#111" stroke-width="1.3"/>
<line x1="305.3" y1="242.1" x2="305.3" y2="246.1" stroke="#111" stroke-width="1.3"/>
<path d="M252.2,242.1 V229.1 H260.9 V242.1" fill="#fff" stroke="#0000ff" stroke-width="2" stroke-linejoin="miter"/>
<path d="M264.3,242.1 V214.7 H273.1 V242.1" fill="#fff" stroke="#ff0000" stroke-width="2" stroke-linejoin="miter"/>
<path d="M288.6,242.1 V230 H297.3 V242.1" fill="#fff" stroke="#0000ff" stroke-width="2" stroke-linejoin="miter"/>
<path d="M300.4,242.1 V225.1 H309.5 V242.1" fill="#fff" stroke="#ff0000" stroke-width="2" stroke-linejoin="miter"/>
<line x1="256.6" y1="224.5" x2="256.6" y2="235" stroke="#0000ff" stroke-width="1.4"/>
<line x1="254.3" y1="224.5" x2="258.9" y2="224.5" stroke="#0000ff" stroke-width="1.4"/>
<line x1="254.3" y1="235" x2="258.9" y2="235" stroke="#0000ff" stroke-width="1.4"/>
<line x1="268.7" y1="205.7" x2="268.7" y2="222.7" stroke="#ff0000" stroke-width="1.4"/>
<line x1="266.4" y1="205.7" x2="271" y2="205.7" stroke="#ff0000" stroke-width="1.4"/>
<line x1="266.4" y1="222.7" x2="271" y2="222.7" stroke="#ff0000" stroke-width="1.4"/>
<line x1="292.9" y1="228.3" x2="292.9" y2="236" stroke="#0000ff" stroke-width="1.4"/>
<line x1="290.6" y1="228.3" x2="295.2" y2="228.3" stroke="#0000ff" stroke-width="1.4"/>
<line x1="290.6" y1="236" x2="295.2" y2="236" stroke="#0000ff" stroke-width="1.4"/>
<line x1="305" y1="221.7" x2="305" y2="232" stroke="#ff0000" stroke-width="1.4"/>
<line x1="302.7" y1="221.7" x2="307.3" y2="221.7" stroke="#ff0000" stroke-width="1.4"/>
<line x1="302.7" y1="232" x2="307.3" y2="232" stroke="#ff0000" stroke-width="1.4"/>
<circle cx="256.7" cy="217.5" r="2" fill="#0000ff"/>
<circle cx="253" cy="230" r="2" fill="#0000ff"/>
<circle cx="260" cy="229" r="2" fill="#0000ff"/>
<circle cx="253.5" cy="235.4" r="2" fill="#0000ff"/>
<circle cx="259.5" cy="234.2" r="2" fill="#0000ff"/>
<polygon points="268.5,186.53 266.3,190.27 270.7,190.27" fill="#ff0000"/>
<polygon points="265,211.63 262.8,215.37 267.2,215.37" fill="#ff0000"/>
<polygon points="272,211.63 269.8,215.37 274.2,215.37" fill="#ff0000"/>
<polygon points="265,230.53 262.8,234.27 267.2,234.27" fill="#ff0000"/>
<polygon points="272,230.53 269.8,234.27 274.2,234.27" fill="#ff0000"/>
<circle cx="289.3" cy="228.3" r="2" fill="#0000ff"/>
<circle cx="292.8" cy="228.3" r="2" fill="#0000ff"/>
<circle cx="296.6" cy="228.3" r="2" fill="#0000ff"/>
<circle cx="292.8" cy="239.5" r="2" fill="#0000ff"/>
<polygon points="301.1,216.83 298.9,220.57 303.3,220.57" fill="#ff0000"/>
<polygon points="309.3,216.83 307.1,220.57 311.5,220.57" fill="#ff0000"/>
<polygon points="305.3,235.93 303.1,239.67 307.5,239.67" fill="#ff0000"/>
<circle cx="280.7" cy="160.4" r="2.2" fill="#0000ff"/>
<polygon points="280.7,171.04 278.4,174.96 283,174.96" fill="#ff0000"/>
<text x="294.8" y="163.6" font-size="11.5" font-weight="normal" fill="#1a1a1a" text-anchor="start" stroke="#1a1a1a" stroke-width="0.12" textLength="17.3" lengthAdjust="spacingAndGlyphs">Con</text>
<text x="294.8" y="176" font-size="11.5" font-weight="normal" fill="#1a1a1a" text-anchor="start" stroke="#1a1a1a" stroke-width="0.12" textLength="14.9" lengthAdjust="spacingAndGlyphs">KO</text>
<text x="264.7" y="201.4" font-size="11.5" font-weight="normal" fill="#1a1a1a" text-anchor="start" stroke="#1a1a1a" stroke-width="0.12" textLength="9.4" lengthAdjust="spacingAndGlyphs">ns</text>
<text x="300.6" y="214.4" font-size="11.5" font-weight="normal" fill="#1a1a1a" text-anchor="start" stroke="#1a1a1a" stroke-width="0.12" textLength="9.5" lengthAdjust="spacingAndGlyphs">ns</text>
<text x="251" y="257.4" font-size="10.5" font-weight="bold" fill="#000" text-anchor="start" stroke="#000" stroke-width="0.22" textLength="23.5" lengthAdjust="spacingAndGlyphs">day 6</text>
<text x="288.1" y="257.4" font-size="10.5" font-weight="bold" fill="#000" text-anchor="start" stroke="#000" stroke-width="0.22" textLength="23.5" lengthAdjust="spacingAndGlyphs">day 9</text>
<text transform="translate(220.7,205.35) rotate(-90)" x="0" y="0" font-size="10.8" font-weight="bold" fill="#000" text-anchor="middle" stroke="#000" stroke-width="0.22" textLength="48.3" lengthAdjust="spacingAndGlyphs">CD44 MFI</text>
<line x1="478.4" y1="165.2" x2="478.4" y2="241.15" stroke="#111" stroke-width="1.5"/>
<line x1="477.65" y1="240.4" x2="543.6" y2="240.4" stroke="#111" stroke-width="1.5"/>
<line x1="474.4" y1="165.8" x2="478.4" y2="165.8" stroke="#111" stroke-width="1.3"/>
<text x="473.4" y="168.72" font-size="8.6" font-weight="normal" fill="#303030" text-anchor="end" stroke="#303030" stroke-width="0.1">200</text>
<line x1="474.4" y1="184.45" x2="478.4" y2="184.45" stroke="#111" stroke-width="1.3"/>
<text x="473.4" y="187.37" font-size="8.6" font-weight="normal" fill="#303030" text-anchor="end" stroke="#303030" stroke-width="0.1">150</text>
<line x1="474.4" y1="203.1" x2="478.4" y2="203.1" stroke="#111" stroke-width="1.3"/>
<text x="473.4" y="206.02" font-size="8.6" font-weight="normal" fill="#303030" text-anchor="end" stroke="#303030" stroke-width="0.1">100</text>
<line x1="474.4" y1="221.75" x2="478.4" y2="221.75" stroke="#111" stroke-width="1.3"/>
<text x="473.4" y="224.67" font-size="8.6" font-weight="normal" fill="#303030" text-anchor="end" stroke="#303030" stroke-width="0.1">50</text>
<line x1="474.4" y1="240.4" x2="478.4" y2="240.4" stroke="#111" stroke-width="1.3"/>
<text x="473.4" y="243.32" font-size="8.6" font-weight="normal" fill="#303030" text-anchor="end" stroke="#303030" stroke-width="0.1">0</text>
<line x1="476.2" y1="175.12" x2="478.4" y2="175.12" stroke="#111" stroke-width="1.2"/>
<line x1="476.2" y1="193.77" x2="478.4" y2="193.77" stroke="#111" stroke-width="1.2"/>
<line x1="476.2" y1="212.43" x2="478.4" y2="212.43" stroke="#111" stroke-width="1.2"/>
<line x1="476.2" y1="231.07" x2="478.4" y2="231.07" stroke="#111" stroke-width="1.2"/>
<line x1="486.7" y1="240.4" x2="486.7" y2="244.4" stroke="#111" stroke-width="1.3"/>
<line x1="498.9" y1="240.4" x2="498.9" y2="244.4" stroke="#111" stroke-width="1.3"/>
<line x1="511.5" y1="240.4" x2="511.5" y2="244.4" stroke="#111" stroke-width="1.3"/>
<line x1="523.1" y1="240.4" x2="523.1" y2="244.4" stroke="#111" stroke-width="1.3"/>
<line x1="535.3" y1="240.4" x2="535.3" y2="244.4" stroke="#111" stroke-width="1.3"/>
<path d="M482.5,240.4 V217 H491.5 V240.4" fill="#fff" stroke="#0000ff" stroke-width="2" stroke-linejoin="miter"/>
<path d="M494.7,240.4 V218.2 H503.6 V240.4" fill="#fff" stroke="#ff0000" stroke-width="2" stroke-linejoin="miter"/>
<path d="M518.9,240.4 V221.3 H527.9 V240.4" fill="#fff" stroke="#0000ff" stroke-width="2" stroke-linejoin="miter"/>
<path d="M530.7,240.4 V217.5 H540 V240.4" fill="#fff" stroke="#ff0000" stroke-width="2" stroke-linejoin="miter"/>
<line x1="523.2" y1="214.4" x2="523.2" y2="227.4" stroke="#0000ff" stroke-width="1.4"/>
<line x1="520.9" y1="214.4" x2="525.5" y2="214.4" stroke="#0000ff" stroke-width="1.4"/>
<line x1="520.9" y1="227.4" x2="525.5" y2="227.4" stroke="#0000ff" stroke-width="1.4"/>
<line x1="535.4" y1="208.8" x2="535.4" y2="224.4" stroke="#ff0000" stroke-width="1.4"/>
<line x1="533.1" y1="208.8" x2="537.7" y2="208.8" stroke="#ff0000" stroke-width="1.4"/>
<line x1="533.1" y1="224.4" x2="537.7" y2="224.4" stroke="#ff0000" stroke-width="1.4"/>
<circle cx="486.7" cy="213.5" r="1.9" fill="#0000ff"/>
<circle cx="484.5" cy="216.5" r="1.9" fill="#0000ff"/>
<circle cx="489" cy="216.5" r="1.9" fill="#0000ff"/>
<polygon points="496.5,215.98 494.6,219.22 498.4,219.22" fill="#ff0000"/>
<polygon points="499.1,215.58 497.2,218.81 501,218.81" fill="#ff0000"/>
<polygon points="501.7,215.98 499.8,219.22 503.6,219.22" fill="#ff0000"/>
<circle cx="519.3" cy="214.4" r="2" fill="#0000ff"/>
<circle cx="523.1" cy="214.4" r="2" fill="#0000ff"/>
<circle cx="527.1" cy="214.4" r="2" fill="#0000ff"/>
<circle cx="523.1" cy="239.5" r="2" fill="#0000ff"/>
<polygon points="531.8,203.83 529.6,207.57 534,207.57" fill="#ff0000"/>
<polygon points="538.7,202.13 536.5,205.87 540.9,205.87" fill="#ff0000"/>
<polygon points="535.8,238.13 533.6,241.87 538,241.87" fill="#ff0000"/>
<circle cx="489.8" cy="167.9" r="2.2" fill="#0000ff"/>
<polygon points="489.8,178.64 487.5,182.56 492.1,182.56" fill="#ff0000"/>
<text x="504" y="171" font-size="11.5" font-weight="normal" fill="#1a1a1a" text-anchor="start" stroke="#1a1a1a" stroke-width="0.12" textLength="17.8" lengthAdjust="spacingAndGlyphs">Con</text>
<text x="504" y="183.4" font-size="11.5" font-weight="normal" fill="#1a1a1a" text-anchor="start" stroke="#1a1a1a" stroke-width="0.12" textLength="15.3" lengthAdjust="spacingAndGlyphs">KO</text>
<text x="494.7" y="214" font-size="11.5" font-weight="normal" fill="#1a1a1a" text-anchor="start" stroke="#1a1a1a" stroke-width="0.12" textLength="9.4" lengthAdjust="spacingAndGlyphs">ns</text>
<text x="530.1" y="199.7" font-size="11.5" font-weight="normal" fill="#1a1a1a" text-anchor="start" stroke="#1a1a1a" stroke-width="0.12" textLength="9.2" lengthAdjust="spacingAndGlyphs">ns</text>
<text x="481" y="255.7" font-size="10.5" font-weight="bold" fill="#000" text-anchor="start" stroke="#000" stroke-width="0.22" textLength="24" lengthAdjust="spacingAndGlyphs">day 6</text>
<text x="517.3" y="255.7" font-size="10.5" font-weight="bold" fill="#000" text-anchor="start" stroke="#000" stroke-width="0.22" textLength="24.3" lengthAdjust="spacingAndGlyphs">day 9</text>
<text transform="translate(455,203.75) rotate(-90)" x="0" y="0" font-size="10.6" font-weight="bold" fill="#000" text-anchor="middle" stroke="#000" stroke-width="0.22" textLength="48.9" lengthAdjust="spacingAndGlyphs">CD69 MFI</text>
<line x1="180.7" y1="306.1" x2="180.7" y2="377.75" stroke="#111" stroke-width="1.5"/>
<line x1="179.95" y1="377" x2="240.5" y2="377" stroke="#111" stroke-width="1.5"/>
<line x1="176.7" y1="306.7" x2="180.7" y2="306.7" stroke="#111" stroke-width="1.3"/>
<text x="175.7" y="309.49" font-size="8.2" font-weight="normal" fill="#303030" text-anchor="end" stroke="#303030" stroke-width="0.1">2000</text>
<line x1="176.7" y1="324.3" x2="180.7" y2="324.3" stroke="#111" stroke-width="1.3"/>
<text x="175.7" y="327.09" font-size="8.2" font-weight="normal" fill="#303030" text-anchor="end" stroke="#303030" stroke-width="0.1">1500</text>
<line x1="176.7" y1="341.85" x2="180.7" y2="341.85" stroke="#111" stroke-width="1.3"/>
<text x="175.7" y="344.64" font-size="8.2" font-weight="normal" fill="#303030" text-anchor="end" stroke="#303030" stroke-width="0.1">1000</text>
<line x1="176.7" y1="359.4" x2="180.7" y2="359.4" stroke="#111" stroke-width="1.3"/>
<text x="175.7" y="362.19" font-size="8.2" font-weight="normal" fill="#303030" text-anchor="end" stroke="#303030" stroke-width="0.1">500</text>
<line x1="176.7" y1="377" x2="180.7" y2="377" stroke="#111" stroke-width="1.3"/>
<text x="175.7" y="379.79" font-size="8.2" font-weight="normal" fill="#303030" text-anchor="end" stroke="#303030" stroke-width="0.1">0</text>
<line x1="178.5" y1="315.5" x2="180.7" y2="315.5" stroke="#111" stroke-width="1.2"/>
<line x1="178.5" y1="333.08" x2="180.7" y2="333.08" stroke="#111" stroke-width="1.2"/>
<line x1="178.5" y1="350.62" x2="180.7" y2="350.62" stroke="#111" stroke-width="1.2"/>
<line x1="178.5" y1="368.2" x2="180.7" y2="368.2" stroke="#111" stroke-width="1.2"/>
<line x1="188.7" y1="377" x2="188.7" y2="381" stroke="#111" stroke-width="1.3"/>
<line x1="200.2" y1="377" x2="200.2" y2="381" stroke="#111" stroke-width="1.3"/>
<line x1="211.3" y1="377" x2="211.3" y2="381" stroke="#111" stroke-width="1.3"/>
<line x1="222.2" y1="377" x2="222.2" y2="381" stroke="#111" stroke-width="1.3"/>
<line x1="233.5" y1="377" x2="233.5" y2="381" stroke="#111" stroke-width="1.3"/>
<path d="M185.1,377 V346.2 H193 V377" fill="#fff" stroke="#0000ff" stroke-width="2" stroke-linejoin="miter"/>
<path d="M196,377 V344.5 H203.9 V377" fill="#fff" stroke="#ff0000" stroke-width="2" stroke-linejoin="miter"/>
<path d="M218.5,377 V336.1 H226.4 V377" fill="#fff" stroke="#0000ff" stroke-width="2" stroke-linejoin="miter"/>
<path d="M229.6,377 V341 H237.7 V377" fill="#fff" stroke="#ff0000" stroke-width="2" stroke-linejoin="miter"/>
<line x1="199.7" y1="339" x2="199.7" y2="351" stroke="#ff0000" stroke-width="1.4"/>
<line x1="197.6" y1="339" x2="201.8" y2="339" stroke="#ff0000" stroke-width="1.4"/>
<line x1="197.6" y1="351" x2="201.8" y2="351" stroke="#ff0000" stroke-width="1.4"/>
<line x1="222.5" y1="332.3" x2="222.5" y2="341" stroke="#0000ff" stroke-width="1.4"/>
<line x1="220.4" y1="332.3" x2="224.6" y2="332.3" stroke="#0000ff" stroke-width="1.4"/>
<line x1="220.4" y1="341" x2="224.6" y2="341" stroke="#0000ff" stroke-width="1.4"/>
<circle cx="188.7" cy="341.9" r="1.9" fill="#0000ff"/>
<circle cx="185.8" cy="348.3" r="1.9" fill="#0000ff"/>
<circle cx="191.5" cy="346" r="1.9" fill="#0000ff"/>
<polygon points="199.7,335.41 197.6,338.99 201.8,338.99" fill="#ff0000"/>
<polygon points="199.7,350.51 197.6,354.09 201.8,354.09" fill="#ff0000"/>
<circle cx="222.7" cy="328.5" r="1.9" fill="#0000ff"/>
<circle cx="222.7" cy="344.1" r="1.9" fill="#0000ff"/>
<polygon points="233.5,334.1 231.5,337.5 235.5,337.5" fill="#ff0000"/>
<polygon points="230.9,341.4 228.9,344.8 232.9,344.8" fill="#ff0000"/>
<polygon points="236.1,341.4 234.1,344.8 238.1,344.8" fill="#ff0000"/>
<circle cx="191.8" cy="301.9" r="2.2" fill="#0000ff"/>
<polygon points="191.8,312.35 189.5,316.25 194.1,316.25" fill="#ff0000"/>
<text x="204.9" y="304.9" font-size="11.5" font-weight="normal" fill="#1a1a1a" text-anchor="start" stroke="#1a1a1a" stroke-width="0.12" textLength="17.3" lengthAdjust="spacingAndGlyphs">Con</text>
<text x="204.9" y="317.2" font-size="11.5" font-weight="normal" fill="#1a1a1a" text-anchor="start" stroke="#1a1a1a" stroke-width="0.12" textLength="14.9" lengthAdjust="spacingAndGlyphs">KO</text>
<text x="195.3" y="332.3" font-size="11.5" font-weight="normal" fill="#1a1a1a" text-anchor="start" stroke="#1a1a1a" stroke-width="0.12" textLength="9.6" lengthAdjust="spacingAndGlyphs">ns</text>
<text x="228.6" y="330.6" font-size="11.5" font-weight="normal" fill="#1a1a1a" text-anchor="start" stroke="#1a1a1a" stroke-width="0.12" textLength="9.2" lengthAdjust="spacingAndGlyphs">ns</text>
<text x="183.6" y="392.6" font-size="10.5" font-weight="bold" fill="#000" text-anchor="start" stroke="#000" stroke-width="0.22" textLength="23" lengthAdjust="spacingAndGlyphs">day 6</text>
<text x="216.5" y="392.6" font-size="10.5" font-weight="bold" fill="#000" text-anchor="start" stroke="#000" stroke-width="0.22" textLength="22.8" lengthAdjust="spacingAndGlyphs">day 9</text>
<text transform="translate(155,342.75) rotate(-90)" x="0" y="0" font-size="10.4" font-weight="bold" fill="#000" text-anchor="middle" stroke="#000" stroke-width="0.22" textLength="50.1" lengthAdjust="spacingAndGlyphs">CD11a MFI</text>
<line x1="462.8" y1="305.3" x2="462.8" y2="377.75" stroke="#111" stroke-width="1.5"/>
<line x1="462.05" y1="377" x2="522.3" y2="377" stroke="#111" stroke-width="1.5"/>
<line x1="458.8" y1="305.9" x2="462.8" y2="305.9" stroke="#111" stroke-width="1.3"/>
<text x="457.8" y="308.69" font-size="8.2" font-weight="normal" fill="#303030" text-anchor="end" stroke="#303030" stroke-width="0.1">4000</text>
<line x1="458.8" y1="323.7" x2="462.8" y2="323.7" stroke="#111" stroke-width="1.3"/>
<text x="457.8" y="326.49" font-size="8.2" font-weight="normal" fill="#303030" text-anchor="end" stroke="#303030" stroke-width="0.1">3000</text>
<line x1="458.8" y1="341.45" x2="462.8" y2="341.45" stroke="#111" stroke-width="1.3"/>
<text x="457.8" y="344.24" font-size="8.2" font-weight="normal" fill="#303030" text-anchor="end" stroke="#303030" stroke-width="0.1">2000</text>
<line x1="458.8" y1="359.2" x2="462.8" y2="359.2" stroke="#111" stroke-width="1.3"/>
<text x="457.8" y="361.99" font-size="8.2" font-weight="normal" fill="#303030" text-anchor="end" stroke="#303030" stroke-width="0.1">1000</text>
<line x1="458.8" y1="377" x2="462.8" y2="377" stroke="#111" stroke-width="1.3"/>
<text x="457.8" y="379.79" font-size="8.2" font-weight="normal" fill="#303030" text-anchor="end" stroke="#303030" stroke-width="0.1">0</text>
<line x1="460.6" y1="314.8" x2="462.8" y2="314.8" stroke="#111" stroke-width="1.2"/>
<line x1="460.6" y1="332.57" x2="462.8" y2="332.57" stroke="#111" stroke-width="1.2"/>
<line x1="460.6" y1="350.32" x2="462.8" y2="350.32" stroke="#111" stroke-width="1.2"/>
<line x1="460.6" y1="368.1" x2="462.8" y2="368.1" stroke="#111" stroke-width="1.2"/>
<line x1="470.7" y1="377" x2="470.7" y2="381" stroke="#111" stroke-width="1.3"/>
<line x1="481.7" y1="377" x2="481.7" y2="381" stroke="#111" stroke-width="1.3"/>
<line x1="492.9" y1="377" x2="492.9" y2="381" stroke="#111" stroke-width="1.3"/>
<line x1="503.7" y1="377" x2="503.7" y2="381" stroke="#111" stroke-width="1.3"/>
<line x1="515.1" y1="377" x2="515.1" y2="381" stroke="#111" stroke-width="1.3"/>
<path d="M466.5,377 V339.3 H475 V377" fill="#fff" stroke="#0000ff" stroke-width="2" stroke-linejoin="miter"/>
<path d="M478,377 V343.6 H485.9 V377" fill="#fff" stroke="#ff0000" stroke-width="2" stroke-linejoin="miter"/>
<path d="M500,377 V347.1 H508 V377" fill="#fff" stroke="#0000ff" stroke-width="2" stroke-linejoin="miter"/>
<path d="M511.3,377 V349.7 H518.8 V377" fill="#fff" stroke="#ff0000" stroke-width="2" stroke-linejoin="miter"/>
<line x1="470.7" y1="326.8" x2="470.7" y2="355" stroke="#0000ff" stroke-width="1.4"/>
<line x1="468.5" y1="326.8" x2="472.9" y2="326.8" stroke="#0000ff" stroke-width="1.4"/>
<line x1="468.5" y1="355" x2="472.9" y2="355" stroke="#0000ff" stroke-width="1.4"/>
<line x1="481.8" y1="335.8" x2="481.8" y2="352" stroke="#ff0000" stroke-width="1.4"/>
<line x1="479.7" y1="335.8" x2="483.9" y2="335.8" stroke="#ff0000" stroke-width="1.4"/>
<line x1="479.7" y1="352" x2="483.9" y2="352" stroke="#ff0000" stroke-width="1.4"/>
<circle cx="470.5" cy="315.3" r="2" fill="#0000ff"/>
<circle cx="468.5" cy="350.2" r="1.9" fill="#0000ff"/>
<circle cx="472.8" cy="350.2" r="1.9" fill="#0000ff"/>
<circle cx="470.7" cy="353" r="1.9" fill="#0000ff"/>
<polygon points="481.7,326.8 479.7,330.2 483.7,330.2" fill="#ff0000"/>
<polygon points="479.3,350.3 477.3,353.7 481.3,353.7" fill="#ff0000"/>
<polygon points="484.2,350.3 482.2,353.7 486.2,353.7" fill="#ff0000"/>
<circle cx="501" cy="347.2" r="1.9" fill="#0000ff"/>
<circle cx="504" cy="346.6" r="1.9" fill="#0000ff"/>
<circle cx="507" cy="347.2" r="1.9" fill="#0000ff"/>
<circle cx="500.6" cy="350.5" r="1.9" fill="#0000ff"/>
<circle cx="504" cy="351" r="1.9" fill="#0000ff"/>
<circle cx="507.4" cy="350.5" r="1.9" fill="#0000ff"/>
<circle cx="502" cy="352.8" r="1.9" fill="#0000ff"/>
<circle cx="506" cy="352.8" r="1.9" fill="#0000ff"/>
<polygon points="511.7,344.9 509.7,348.3 513.7,348.3" fill="#ff0000"/>
<polygon points="515.1,347.1 513.1,350.5 517.1,350.5" fill="#ff0000"/>
<polygon points="518.1,347.5 516.1,350.9 520.1,350.9" fill="#ff0000"/>
<polygon points="512.8,350.1 510.8,353.5 514.8,353.5" fill="#ff0000"/>
<polygon points="517,350.5 515,353.9 519,353.9" fill="#ff0000"/>
<line x1="515" y1="346.8" x2="515" y2="352.5" stroke="#ff0000" stroke-width="1.4"/>
<line x1="513" y1="346.8" x2="517" y2="346.8" stroke="#ff0000" stroke-width="1.4"/>
<line x1="513" y1="352.5" x2="517" y2="352.5" stroke="#ff0000" stroke-width="1.4"/>
<circle cx="491.8" cy="301.1" r="2.2" fill="#0000ff"/>
<polygon points="491.8,311.15 489.5,315.06 494.1,315.06" fill="#ff0000"/>
<text x="505" y="304.4" font-size="11.5" font-weight="normal" fill="#1a1a1a" text-anchor="start" stroke="#1a1a1a" stroke-width="0.12" textLength="17.3" lengthAdjust="spacingAndGlyphs">Con</text>
<text x="505" y="316.7" font-size="11.5" font-weight="normal" fill="#1a1a1a" text-anchor="start" stroke="#1a1a1a" stroke-width="0.12" textLength="14.8" lengthAdjust="spacingAndGlyphs">KO</text>
<text x="477.3" y="324.5" font-size="11.5" font-weight="normal" fill="#1a1a1a" text-anchor="start" stroke="#1a1a1a" stroke-width="0.12" textLength="9.6" lengthAdjust="spacingAndGlyphs">ns</text>
<text x="510.3" y="342.7" font-size="11.5" font-weight="normal" fill="#1a1a1a" text-anchor="start" stroke="#1a1a1a" stroke-width="0.12" textLength="9.5" lengthAdjust="spacingAndGlyphs">ns</text>
<text x="465.5" y="391.8" font-size="10.5" font-weight="bold" fill="#000" text-anchor="start" stroke="#000" stroke-width="0.22" textLength="22.1" lengthAdjust="spacingAndGlyphs">day 6</text>
<text x="498.5" y="391.8" font-size="10.5" font-weight="bold" fill="#000" text-anchor="start" stroke="#000" stroke-width="0.22" textLength="21.5" lengthAdjust="spacingAndGlyphs">day 9</text>
<text transform="translate(436.5,342.15) rotate(-90)" x="0" y="0" font-size="10.4" font-weight="bold" fill="#000" text-anchor="middle" stroke="#000" stroke-width="0.22" textLength="46.1" lengthAdjust="spacingAndGlyphs">CD54 MFI</text>
<line x1="247.25" y1="104.4" x2="313.6" y2="104.4" stroke="#111" stroke-width="1.5"/>
<line x1="480.15" y1="103.9" x2="545.2" y2="103.9" stroke="#111" stroke-width="1.5"/>
<line x1="247.65" y1="242.1" x2="314" y2="242.1" stroke="#111" stroke-width="1.5"/>
<line x1="477.65" y1="240.4" x2="543.6" y2="240.4" stroke="#111" stroke-width="1.5"/>
<line x1="179.95" y1="377" x2="240.5" y2="377" stroke="#111" stroke-width="1.5"/>
<line x1="462.05" y1="377" x2="522.3" y2="377" stroke="#111" stroke-width="1.5"/>
</svg>
</body></html>
